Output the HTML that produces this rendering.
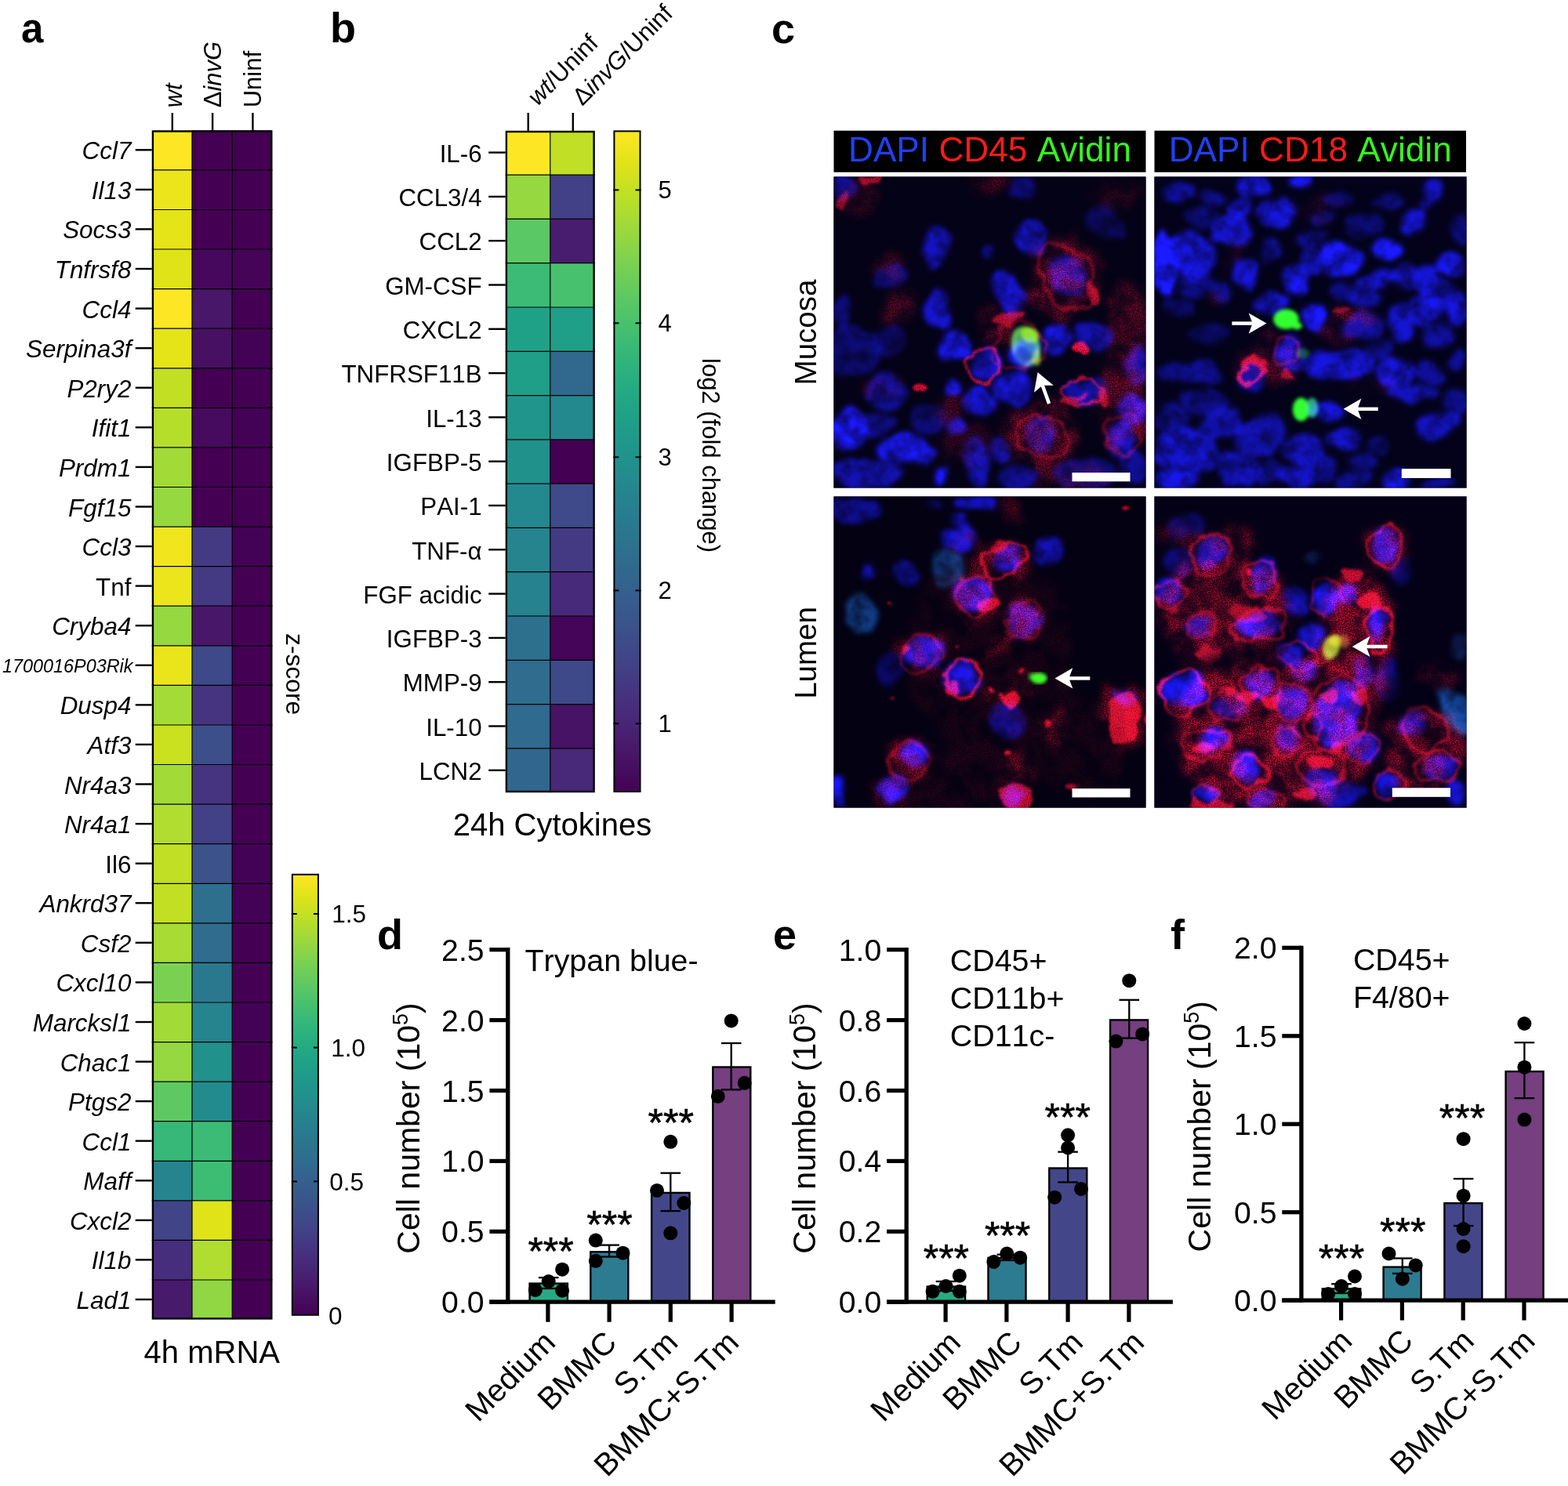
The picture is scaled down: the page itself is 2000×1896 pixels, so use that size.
<!DOCTYPE html>
<html lang="en">
<head>
<meta charset="utf-8">
<title>Figure</title>
<style>
html,body{margin:0;padding:0;background:#fff;}
body{width:2000px;height:1896px;overflow:hidden;}
svg{display:block;}
svg text{font-family:"Liberation Sans", Arial, Helvetica, sans-serif;fill:#000;font-kerning:none;}
</style>
</head>
<body>
<svg width="2000" height="1896" viewBox="0 0 2000 1896">
<defs><linearGradient id="gv" x1="0" y1="0" x2="0" y2="1"><stop offset="0.00" stop-color="#fde725"/><stop offset="0.05" stop-color="#dfe318"/><stop offset="0.10" stop-color="#bddf26"/><stop offset="0.15" stop-color="#9bd93c"/><stop offset="0.20" stop-color="#7ad151"/><stop offset="0.25" stop-color="#5ec962"/><stop offset="0.30" stop-color="#44bf70"/><stop offset="0.35" stop-color="#2fb47c"/><stop offset="0.40" stop-color="#22a884"/><stop offset="0.45" stop-color="#1e9c89"/><stop offset="0.50" stop-color="#21918c"/><stop offset="0.55" stop-color="#25848e"/><stop offset="0.60" stop-color="#2a788e"/><stop offset="0.65" stop-color="#2f6c8e"/><stop offset="0.70" stop-color="#355f8d"/><stop offset="0.75" stop-color="#3b528b"/><stop offset="0.80" stop-color="#414487"/><stop offset="0.85" stop-color="#463480"/><stop offset="0.90" stop-color="#482475"/><stop offset="0.95" stop-color="#471365"/><stop offset="1.00" stop-color="#440154"/></linearGradient><filter id="fb" x="-5%" y="-5%" width="110%" height="110%" color-interpolation-filters="sRGB"><feTurbulence type="fractalNoise" baseFrequency="0.028" numOctaves="2" seed="3" result="dn"/><feDisplacementMap in="SourceGraphic" in2="dn" scale="22" xChannelSelector="R" yChannelSelector="G" result="dd"/><feGaussianBlur in="dd" stdDeviation="3.2" result="b"/><feTurbulence type="fractalNoise" baseFrequency="0.045" numOctaves="3" seed="7" result="n"/><feColorMatrix in="n" type="matrix" values="0 0 0 0 1  0 0 0 0 1  0 0 0 0 1  2.4 0 0 0 -0.6" result="na"/><feComposite in="b" in2="na" operator="arithmetic" k1="0.75" k2="0.6" k3="0" k4="0"/></filter><filter id="frc" x="-5%" y="-5%" width="110%" height="110%" color-interpolation-filters="sRGB"><feTurbulence type="fractalNoise" baseFrequency="0.03" numOctaves="3" seed="9" result="dn"/><feDisplacementMap in="SourceGraphic" in2="dn" scale="40" xChannelSelector="R" yChannelSelector="G" result="dd"/><feGaussianBlur in="dd" stdDeviation="5.5" result="b"/><feTurbulence type="fractalNoise" baseFrequency="0.7" numOctaves="2" seed="11" result="n"/><feColorMatrix in="n" type="matrix" values="0 0 0 0 1  0 0 0 0 1  0 0 0 0 1  4.0 0 0 0 -1.7" result="na"/><feTurbulence type="fractalNoise" baseFrequency="0.035" numOctaves="3" seed="23" result="n2"/><feColorMatrix in="n2" type="matrix" values="0 0 0 0 1  0 0 0 0 1  0 0 0 0 1  0 3.2 0 0 -1.0" result="nb"/><feComposite in="b" in2="nb" operator="arithmetic" k1="0.9" k2="0.25" k3="0" k4="0" result="b2"/><feComposite in="b2" in2="na" operator="arithmetic" k1="0.75" k2="0.3" k3="0" k4="0"/></filter><filter id="fr" x="-5%" y="-5%" width="110%" height="110%" color-interpolation-filters="sRGB"><feTurbulence type="fractalNoise" baseFrequency="0.035" numOctaves="3" seed="14" result="dn"/><feDisplacementMap in="SourceGraphic" in2="dn" scale="24" xChannelSelector="R" yChannelSelector="G" result="dd"/><feGaussianBlur in="dd" stdDeviation="1.4" result="b"/><feTurbulence type="fractalNoise" baseFrequency="0.7" numOctaves="2" seed="5" result="n"/><feColorMatrix in="n" type="matrix" values="0 0 0 0 1  0 0 0 0 1  0 0 0 0 1  3.0 0 0 0 -1.0" result="na"/><feComposite in="b" in2="na" operator="arithmetic" k1="0.5" k2="0.6" k3="0" k4="0"/></filter><filter id="fg" x="-5%" y="-5%" width="110%" height="110%" color-interpolation-filters="sRGB"><feGaussianBlur in="SourceGraphic" stdDeviation="2.0"/></filter><filter id="fd" x="-5%" y="-5%" width="110%" height="110%" color-interpolation-filters="sRGB"><feGaussianBlur in="SourceGraphic" stdDeviation="7"/></filter><clipPath id="cp"><rect x="0.5" y="0.5" width="398" height="397"/></clipPath></defs>
<rect width="2000" height="1896" fill="#fff"/>
<g id="panel-a">
<text x="27.0" y="54.0" font-size="51" font-weight="bold">a</text>
<rect x="194.7" y="166.3" width="50.6" height="50.9" fill="#fde725"/>
<rect x="245.0" y="166.3" width="51.6" height="50.9" fill="#440154"/>
<rect x="296.2" y="166.3" width="50.3" height="50.9" fill="#440154"/>
<line x1="172.7" y1="191.3" x2="193.7" y2="191.3" stroke="#000" stroke-width="2.4" stroke-linecap="butt"/>
<text x="167.4" y="203.3" font-size="31.4" text-anchor="end" font-style="italic">Ccl7</text>
<rect x="194.7" y="216.9" width="50.6" height="50.9" fill="#ece51b"/>
<rect x="245.0" y="216.9" width="51.6" height="50.9" fill="#440154"/>
<rect x="296.2" y="216.9" width="50.3" height="50.9" fill="#440154"/>
<line x1="172.7" y1="241.9" x2="193.7" y2="241.9" stroke="#000" stroke-width="2.4" stroke-linecap="butt"/>
<text x="167.4" y="253.9" font-size="31.4" text-anchor="end" font-style="italic">Il13</text>
<rect x="194.7" y="267.5" width="50.6" height="50.9" fill="#e5e419"/>
<rect x="245.0" y="267.5" width="51.6" height="50.9" fill="#440154"/>
<rect x="296.2" y="267.5" width="50.3" height="50.9" fill="#440154"/>
<line x1="172.7" y1="292.4" x2="193.7" y2="292.4" stroke="#000" stroke-width="2.4" stroke-linecap="butt"/>
<text x="167.4" y="304.4" font-size="31.4" text-anchor="end" font-style="italic">Socs3</text>
<rect x="194.7" y="318.0" width="50.6" height="50.9" fill="#dfe318"/>
<rect x="245.0" y="318.0" width="51.6" height="50.9" fill="#46085c"/>
<rect x="296.2" y="318.0" width="50.3" height="50.9" fill="#450457"/>
<line x1="172.7" y1="343.0" x2="193.7" y2="343.0" stroke="#000" stroke-width="2.4" stroke-linecap="butt"/>
<text x="167.4" y="355.0" font-size="31.4" text-anchor="end" font-style="italic">Tnfrsf8</text>
<rect x="194.7" y="368.6" width="50.6" height="50.9" fill="#fde725"/>
<rect x="245.0" y="368.6" width="51.6" height="50.9" fill="#481769"/>
<rect x="296.2" y="368.6" width="50.3" height="50.9" fill="#440154"/>
<line x1="172.7" y1="393.6" x2="193.7" y2="393.6" stroke="#000" stroke-width="2.4" stroke-linecap="butt"/>
<text x="167.4" y="405.6" font-size="31.4" text-anchor="end" font-style="italic">Ccl4</text>
<rect x="194.7" y="419.2" width="50.6" height="50.9" fill="#e5e419"/>
<rect x="245.0" y="419.2" width="51.6" height="50.9" fill="#471063"/>
<rect x="296.2" y="419.2" width="50.3" height="50.9" fill="#440256"/>
<line x1="172.7" y1="444.2" x2="193.7" y2="444.2" stroke="#000" stroke-width="2.4" stroke-linecap="butt"/>
<text x="167.4" y="456.2" font-size="31.4" text-anchor="end" font-style="italic">Serpina3f</text>
<rect x="194.7" y="469.8" width="50.6" height="50.9" fill="#c2df23"/>
<rect x="245.0" y="469.8" width="51.6" height="50.9" fill="#440154"/>
<rect x="296.2" y="469.8" width="50.3" height="50.9" fill="#440154"/>
<line x1="172.7" y1="494.7" x2="193.7" y2="494.7" stroke="#000" stroke-width="2.4" stroke-linecap="butt"/>
<text x="167.4" y="506.7" font-size="31.4" text-anchor="end" font-style="italic">P2ry2</text>
<rect x="194.7" y="520.3" width="50.6" height="50.9" fill="#b5de2b"/>
<rect x="245.0" y="520.3" width="51.6" height="50.9" fill="#460b5e"/>
<rect x="296.2" y="520.3" width="50.3" height="50.9" fill="#440256"/>
<line x1="172.7" y1="545.3" x2="193.7" y2="545.3" stroke="#000" stroke-width="2.4" stroke-linecap="butt"/>
<text x="167.4" y="557.3" font-size="31.4" text-anchor="end" font-style="italic">Ifit1</text>
<rect x="194.7" y="570.9" width="50.6" height="50.9" fill="#a2da37"/>
<rect x="245.0" y="570.9" width="51.6" height="50.9" fill="#440154"/>
<rect x="296.2" y="570.9" width="50.3" height="50.9" fill="#440154"/>
<line x1="172.7" y1="595.9" x2="193.7" y2="595.9" stroke="#000" stroke-width="2.4" stroke-linecap="butt"/>
<text x="167.4" y="607.9" font-size="31.4" text-anchor="end" font-style="italic">Prdm1</text>
<rect x="194.7" y="621.5" width="50.6" height="50.9" fill="#95d840"/>
<rect x="245.0" y="621.5" width="51.6" height="50.9" fill="#440154"/>
<rect x="296.2" y="621.5" width="50.3" height="50.9" fill="#440154"/>
<line x1="172.7" y1="646.5" x2="193.7" y2="646.5" stroke="#000" stroke-width="2.4" stroke-linecap="butt"/>
<text x="167.4" y="658.5" font-size="31.4" text-anchor="end" font-style="italic">Fgf15</text>
<rect x="194.7" y="672.1" width="50.6" height="50.9" fill="#f1e51d"/>
<rect x="245.0" y="672.1" width="51.6" height="50.9" fill="#443a83"/>
<rect x="296.2" y="672.1" width="50.3" height="50.9" fill="#440256"/>
<line x1="172.7" y1="697.1" x2="193.7" y2="697.1" stroke="#000" stroke-width="2.4" stroke-linecap="butt"/>
<text x="167.4" y="709.0" font-size="31.4" text-anchor="end" font-style="italic">Ccl3</text>
<rect x="194.7" y="722.6" width="50.6" height="50.9" fill="#ece51b"/>
<rect x="245.0" y="722.6" width="51.6" height="50.9" fill="#443983"/>
<rect x="296.2" y="722.6" width="50.3" height="50.9" fill="#440154"/>
<line x1="172.7" y1="747.6" x2="193.7" y2="747.6" stroke="#000" stroke-width="2.4" stroke-linecap="butt"/>
<text x="167.4" y="759.6" font-size="31.4" text-anchor="end">Tnf</text>
<rect x="194.7" y="773.2" width="50.6" height="50.9" fill="#95d840"/>
<rect x="245.0" y="773.2" width="51.6" height="50.9" fill="#481769"/>
<rect x="296.2" y="773.2" width="50.3" height="50.9" fill="#440154"/>
<line x1="172.7" y1="798.2" x2="193.7" y2="798.2" stroke="#000" stroke-width="2.4" stroke-linecap="butt"/>
<text x="167.4" y="810.2" font-size="31.4" text-anchor="end" font-style="italic">Cryba4</text>
<rect x="194.7" y="823.8" width="50.6" height="50.9" fill="#eae51a"/>
<rect x="245.0" y="823.8" width="51.6" height="50.9" fill="#3e4989"/>
<rect x="296.2" y="823.8" width="50.3" height="50.9" fill="#440154"/>
<line x1="172.7" y1="848.8" x2="193.7" y2="848.8" stroke="#000" stroke-width="2.4" stroke-linecap="butt"/>
<text x="169.5" y="858.2" font-size="23.4" text-anchor="end" font-style="italic">1700016P03Rik</text>
<rect x="194.7" y="874.4" width="50.6" height="50.9" fill="#a5db36"/>
<rect x="245.0" y="874.4" width="51.6" height="50.9" fill="#463480"/>
<rect x="296.2" y="874.4" width="50.3" height="50.9" fill="#440154"/>
<line x1="172.7" y1="899.4" x2="193.7" y2="899.4" stroke="#000" stroke-width="2.4" stroke-linecap="butt"/>
<text x="167.4" y="911.4" font-size="31.4" text-anchor="end" font-style="italic">Dusp4</text>
<rect x="194.7" y="925.0" width="50.6" height="50.9" fill="#cae11f"/>
<rect x="245.0" y="925.0" width="51.6" height="50.9" fill="#3c4f8a"/>
<rect x="296.2" y="925.0" width="50.3" height="50.9" fill="#440154"/>
<line x1="172.7" y1="949.9" x2="193.7" y2="949.9" stroke="#000" stroke-width="2.4" stroke-linecap="butt"/>
<text x="167.4" y="961.9" font-size="31.4" text-anchor="end" font-style="italic">Atf3</text>
<rect x="194.7" y="975.5" width="50.6" height="50.9" fill="#a2da37"/>
<rect x="245.0" y="975.5" width="51.6" height="50.9" fill="#463480"/>
<rect x="296.2" y="975.5" width="50.3" height="50.9" fill="#440154"/>
<line x1="172.7" y1="1000.5" x2="193.7" y2="1000.5" stroke="#000" stroke-width="2.4" stroke-linecap="butt"/>
<text x="167.4" y="1012.5" font-size="31.4" text-anchor="end" font-style="italic">Nr4a3</text>
<rect x="194.7" y="1026.1" width="50.6" height="50.9" fill="#b0dd2f"/>
<rect x="245.0" y="1026.1" width="51.6" height="50.9" fill="#424086"/>
<rect x="296.2" y="1026.1" width="50.3" height="50.9" fill="#440154"/>
<line x1="172.7" y1="1051.1" x2="193.7" y2="1051.1" stroke="#000" stroke-width="2.4" stroke-linecap="butt"/>
<text x="167.4" y="1063.1" font-size="31.4" text-anchor="end" font-style="italic">Nr4a1</text>
<rect x="194.7" y="1076.7" width="50.6" height="50.9" fill="#c0df25"/>
<rect x="245.0" y="1076.7" width="51.6" height="50.9" fill="#3b528b"/>
<rect x="296.2" y="1076.7" width="50.3" height="50.9" fill="#440256"/>
<line x1="172.7" y1="1101.7" x2="193.7" y2="1101.7" stroke="#000" stroke-width="2.4" stroke-linecap="butt"/>
<text x="167.4" y="1113.7" font-size="31.4" text-anchor="end">Il6</text>
<rect x="194.7" y="1127.3" width="50.6" height="50.9" fill="#c2df23"/>
<rect x="245.0" y="1127.3" width="51.6" height="50.9" fill="#2e6f8e"/>
<rect x="296.2" y="1127.3" width="50.3" height="50.9" fill="#440256"/>
<line x1="172.7" y1="1152.2" x2="193.7" y2="1152.2" stroke="#000" stroke-width="2.4" stroke-linecap="butt"/>
<text x="167.4" y="1164.2" font-size="31.4" text-anchor="end" font-style="italic">Ankrd37</text>
<rect x="194.7" y="1177.8" width="50.6" height="50.9" fill="#a8db34"/>
<rect x="245.0" y="1177.8" width="51.6" height="50.9" fill="#2f6c8e"/>
<rect x="296.2" y="1177.8" width="50.3" height="50.9" fill="#440154"/>
<line x1="172.7" y1="1202.8" x2="193.7" y2="1202.8" stroke="#000" stroke-width="2.4" stroke-linecap="butt"/>
<text x="167.4" y="1214.8" font-size="31.4" text-anchor="end" font-style="italic">Csf2</text>
<rect x="194.7" y="1228.4" width="50.6" height="50.9" fill="#7ad151"/>
<rect x="245.0" y="1228.4" width="51.6" height="50.9" fill="#2a788e"/>
<rect x="296.2" y="1228.4" width="50.3" height="50.9" fill="#440154"/>
<line x1="172.7" y1="1253.4" x2="193.7" y2="1253.4" stroke="#000" stroke-width="2.4" stroke-linecap="butt"/>
<text x="167.4" y="1265.4" font-size="31.4" text-anchor="end" font-style="italic">Cxcl10</text>
<rect x="194.7" y="1279.0" width="50.6" height="50.9" fill="#a2da37"/>
<rect x="245.0" y="1279.0" width="51.6" height="50.9" fill="#25848e"/>
<rect x="296.2" y="1279.0" width="50.3" height="50.9" fill="#440256"/>
<line x1="172.7" y1="1304.0" x2="193.7" y2="1304.0" stroke="#000" stroke-width="2.4" stroke-linecap="butt"/>
<text x="167.4" y="1316.0" font-size="31.4" text-anchor="end" font-style="italic">Marcksl1</text>
<rect x="194.7" y="1329.6" width="50.6" height="50.9" fill="#95d840"/>
<rect x="245.0" y="1329.6" width="51.6" height="50.9" fill="#21918c"/>
<rect x="296.2" y="1329.6" width="50.3" height="50.9" fill="#440154"/>
<line x1="172.7" y1="1354.6" x2="193.7" y2="1354.6" stroke="#000" stroke-width="2.4" stroke-linecap="butt"/>
<text x="167.4" y="1366.5" font-size="31.4" text-anchor="end" font-style="italic">Chac1</text>
<rect x="194.7" y="1380.1" width="50.6" height="50.9" fill="#5ec962"/>
<rect x="245.0" y="1380.1" width="51.6" height="50.9" fill="#228b8d"/>
<rect x="296.2" y="1380.1" width="50.3" height="50.9" fill="#440154"/>
<line x1="172.7" y1="1405.1" x2="193.7" y2="1405.1" stroke="#000" stroke-width="2.4" stroke-linecap="butt"/>
<text x="167.4" y="1417.1" font-size="31.4" text-anchor="end" font-style="italic">Ptgs2</text>
<rect x="194.7" y="1430.7" width="50.6" height="50.9" fill="#37b878"/>
<rect x="245.0" y="1430.7" width="51.6" height="50.9" fill="#3bbb75"/>
<rect x="296.2" y="1430.7" width="50.3" height="50.9" fill="#440154"/>
<line x1="172.7" y1="1455.7" x2="193.7" y2="1455.7" stroke="#000" stroke-width="2.4" stroke-linecap="butt"/>
<text x="167.4" y="1467.7" font-size="31.4" text-anchor="end" font-style="italic">Ccl1</text>
<rect x="194.7" y="1481.3" width="50.6" height="50.9" fill="#25848e"/>
<rect x="245.0" y="1481.3" width="51.6" height="50.9" fill="#3dbc74"/>
<rect x="296.2" y="1481.3" width="50.3" height="50.9" fill="#440154"/>
<line x1="172.7" y1="1506.3" x2="193.7" y2="1506.3" stroke="#000" stroke-width="2.4" stroke-linecap="butt"/>
<text x="167.4" y="1518.3" font-size="31.4" text-anchor="end" font-style="italic">Maff</text>
<rect x="194.7" y="1531.9" width="50.6" height="50.9" fill="#414487"/>
<rect x="245.0" y="1531.9" width="51.6" height="50.9" fill="#dfe318"/>
<rect x="296.2" y="1531.9" width="50.3" height="50.9" fill="#440154"/>
<line x1="172.7" y1="1556.9" x2="193.7" y2="1556.9" stroke="#000" stroke-width="2.4" stroke-linecap="butt"/>
<text x="167.4" y="1568.9" font-size="31.4" text-anchor="end" font-style="italic">Cxcl2</text>
<rect x="194.7" y="1582.4" width="50.6" height="50.9" fill="#472e7c"/>
<rect x="245.0" y="1582.4" width="51.6" height="50.9" fill="#b0dd2f"/>
<rect x="296.2" y="1582.4" width="50.3" height="50.9" fill="#440154"/>
<line x1="172.7" y1="1607.4" x2="193.7" y2="1607.4" stroke="#000" stroke-width="2.4" stroke-linecap="butt"/>
<text x="167.4" y="1619.4" font-size="31.4" text-anchor="end" font-style="italic">Il1b</text>
<rect x="194.7" y="1633.0" width="50.6" height="49.6" fill="#481a6c"/>
<rect x="245.0" y="1633.0" width="51.6" height="49.6" fill="#90d743"/>
<rect x="296.2" y="1633.0" width="50.3" height="49.6" fill="#440154"/>
<line x1="172.7" y1="1658.0" x2="193.7" y2="1658.0" stroke="#000" stroke-width="2.4" stroke-linecap="butt"/>
<text x="167.4" y="1670.0" font-size="31.4" text-anchor="end" font-style="italic">Lad1</text>
<line x1="193.7" y1="216.9" x2="347.5" y2="216.9" stroke="#000" stroke-width="1.2" stroke-linecap="butt"/>
<line x1="193.7" y1="267.5" x2="347.5" y2="267.5" stroke="#000" stroke-width="1.2" stroke-linecap="butt"/>
<line x1="193.7" y1="318.0" x2="347.5" y2="318.0" stroke="#000" stroke-width="1.2" stroke-linecap="butt"/>
<line x1="193.7" y1="368.6" x2="347.5" y2="368.6" stroke="#000" stroke-width="1.2" stroke-linecap="butt"/>
<line x1="193.7" y1="419.2" x2="347.5" y2="419.2" stroke="#000" stroke-width="1.2" stroke-linecap="butt"/>
<line x1="193.7" y1="469.8" x2="347.5" y2="469.8" stroke="#000" stroke-width="1.2" stroke-linecap="butt"/>
<line x1="193.7" y1="520.3" x2="347.5" y2="520.3" stroke="#000" stroke-width="1.2" stroke-linecap="butt"/>
<line x1="193.7" y1="570.9" x2="347.5" y2="570.9" stroke="#000" stroke-width="1.2" stroke-linecap="butt"/>
<line x1="193.7" y1="621.5" x2="347.5" y2="621.5" stroke="#000" stroke-width="1.2" stroke-linecap="butt"/>
<line x1="193.7" y1="672.1" x2="347.5" y2="672.1" stroke="#000" stroke-width="1.2" stroke-linecap="butt"/>
<line x1="193.7" y1="722.6" x2="347.5" y2="722.6" stroke="#000" stroke-width="1.2" stroke-linecap="butt"/>
<line x1="193.7" y1="773.2" x2="347.5" y2="773.2" stroke="#000" stroke-width="1.2" stroke-linecap="butt"/>
<line x1="193.7" y1="823.8" x2="347.5" y2="823.8" stroke="#000" stroke-width="1.2" stroke-linecap="butt"/>
<line x1="193.7" y1="874.4" x2="347.5" y2="874.4" stroke="#000" stroke-width="1.2" stroke-linecap="butt"/>
<line x1="193.7" y1="925.0" x2="347.5" y2="925.0" stroke="#000" stroke-width="1.2" stroke-linecap="butt"/>
<line x1="193.7" y1="975.5" x2="347.5" y2="975.5" stroke="#000" stroke-width="1.2" stroke-linecap="butt"/>
<line x1="193.7" y1="1026.1" x2="347.5" y2="1026.1" stroke="#000" stroke-width="1.2" stroke-linecap="butt"/>
<line x1="193.7" y1="1076.7" x2="347.5" y2="1076.7" stroke="#000" stroke-width="1.2" stroke-linecap="butt"/>
<line x1="193.7" y1="1127.3" x2="347.5" y2="1127.3" stroke="#000" stroke-width="1.2" stroke-linecap="butt"/>
<line x1="193.7" y1="1177.8" x2="347.5" y2="1177.8" stroke="#000" stroke-width="1.2" stroke-linecap="butt"/>
<line x1="193.7" y1="1228.4" x2="347.5" y2="1228.4" stroke="#000" stroke-width="1.2" stroke-linecap="butt"/>
<line x1="193.7" y1="1279.0" x2="347.5" y2="1279.0" stroke="#000" stroke-width="1.2" stroke-linecap="butt"/>
<line x1="193.7" y1="1329.6" x2="347.5" y2="1329.6" stroke="#000" stroke-width="1.2" stroke-linecap="butt"/>
<line x1="193.7" y1="1380.1" x2="347.5" y2="1380.1" stroke="#000" stroke-width="1.2" stroke-linecap="butt"/>
<line x1="193.7" y1="1430.7" x2="347.5" y2="1430.7" stroke="#000" stroke-width="1.2" stroke-linecap="butt"/>
<line x1="193.7" y1="1481.3" x2="347.5" y2="1481.3" stroke="#000" stroke-width="1.2" stroke-linecap="butt"/>
<line x1="193.7" y1="1531.9" x2="347.5" y2="1531.9" stroke="#000" stroke-width="1.2" stroke-linecap="butt"/>
<line x1="193.7" y1="1582.4" x2="347.5" y2="1582.4" stroke="#000" stroke-width="1.2" stroke-linecap="butt"/>
<line x1="193.7" y1="1633.0" x2="347.5" y2="1633.0" stroke="#000" stroke-width="1.2" stroke-linecap="butt"/>
<line x1="245.0" y1="166.3" x2="245.0" y2="1683.6" stroke="#000" stroke-width="1.2" stroke-linecap="butt"/>
<line x1="296.2" y1="166.3" x2="296.2" y2="1683.6" stroke="#000" stroke-width="1.2" stroke-linecap="butt"/>
<rect x="194.9" y="167.5" width="151.4" height="1514.9" fill="none" stroke="#000" stroke-width="2.4"/>
<line x1="219.8" y1="144.0" x2="219.8" y2="167.3" stroke="#000" stroke-width="2.4" stroke-linecap="butt"/>
<text x="232.0" y="137.3" font-size="31" transform="rotate(-90 232.0 137.3)"><tspan font-style="italic">wt</tspan></text>
<line x1="271.1" y1="144.0" x2="271.1" y2="167.3" stroke="#000" stroke-width="2.4" stroke-linecap="butt"/>
<text x="282.1" y="137.3" font-size="31" transform="rotate(-90 282.1 137.3)">Δ<tspan font-style="italic">invG</tspan></text>
<line x1="322.4" y1="144.0" x2="322.4" y2="167.3" stroke="#000" stroke-width="2.4" stroke-linecap="butt"/>
<text x="333.4" y="137.3" font-size="31" transform="rotate(-90 333.4 137.3)">Uninf</text>
<rect x="372.8" y="1115.8" width="33.1" height="562.0" fill="url(#gv)" stroke="#000" stroke-width="2"/>
<line x1="371.8" y1="1166.0" x2="378.8" y2="1166.0" stroke="#000" stroke-width="2" stroke-linecap="butt"/>
<line x1="399.9" y1="1166.0" x2="406.9" y2="1166.0" stroke="#000" stroke-width="2" stroke-linecap="butt"/>
<text x="423.3" y="1177.2" font-size="31.5">1.5</text>
<line x1="371.8" y1="1336.6" x2="378.8" y2="1336.6" stroke="#000" stroke-width="2" stroke-linecap="butt"/>
<line x1="399.9" y1="1336.6" x2="406.9" y2="1336.6" stroke="#000" stroke-width="2" stroke-linecap="butt"/>
<text x="422.3" y="1347.8" font-size="31.5">1.0</text>
<line x1="371.8" y1="1507.4" x2="378.8" y2="1507.4" stroke="#000" stroke-width="2" stroke-linecap="butt"/>
<line x1="399.9" y1="1507.4" x2="406.9" y2="1507.4" stroke="#000" stroke-width="2" stroke-linecap="butt"/>
<text x="420.3" y="1518.6" font-size="31.5">0.5</text>
<text x="419.0" y="1689.7" font-size="31.5">0</text>
<text x="365.3" y="808.0" font-size="31.8" transform="rotate(90 365.3 808.0)">z-score</text>
<text x="270.3" y="1739.0" font-size="40" text-anchor="middle">4h mRNA</text>
</g>
<g id="panel-b">
<text x="421.0" y="53.5" font-size="54" font-weight="bold">b</text>
<rect x="645.7" y="166.8" width="56.3" height="56.6" fill="#fde725"/>
<rect x="701.8" y="166.8" width="56.0" height="56.6" fill="#c0df25"/>
<line x1="623.2" y1="194.6" x2="644.7" y2="194.6" stroke="#000" stroke-width="2.4" stroke-linecap="butt"/>
<text x="614.6" y="206.8" font-size="31.3" text-anchor="end">IL-6</text>
<rect x="645.7" y="223.1" width="56.3" height="56.6" fill="#95d840"/>
<rect x="701.8" y="223.1" width="56.0" height="56.6" fill="#424086"/>
<line x1="623.2" y1="250.9" x2="644.7" y2="250.9" stroke="#000" stroke-width="2.4" stroke-linecap="butt"/>
<text x="614.6" y="263.1" font-size="31.3" text-anchor="end">CCL3/4</text>
<rect x="645.7" y="279.4" width="56.3" height="56.6" fill="#5ac864"/>
<rect x="701.8" y="279.4" width="56.0" height="56.6" fill="#481c6e"/>
<line x1="623.2" y1="307.2" x2="644.7" y2="307.2" stroke="#000" stroke-width="2.4" stroke-linecap="butt"/>
<text x="614.6" y="319.4" font-size="31.3" text-anchor="end">CCL2</text>
<rect x="645.7" y="335.7" width="56.3" height="56.6" fill="#3bbb75"/>
<rect x="701.8" y="335.7" width="56.0" height="56.6" fill="#48c16e"/>
<line x1="623.2" y1="363.5" x2="644.7" y2="363.5" stroke="#000" stroke-width="2.4" stroke-linecap="butt"/>
<text x="614.6" y="375.7" font-size="31.3" text-anchor="end">GM-CSF</text>
<rect x="645.7" y="392.0" width="56.3" height="56.6" fill="#1fa188"/>
<rect x="701.8" y="392.0" width="56.0" height="56.6" fill="#1f9f88"/>
<line x1="623.2" y1="419.8" x2="644.7" y2="419.8" stroke="#000" stroke-width="2.4" stroke-linecap="butt"/>
<text x="614.6" y="432.0" font-size="31.3" text-anchor="end">CXCL2</text>
<rect x="645.7" y="448.3" width="56.3" height="56.6" fill="#1f9f88"/>
<rect x="701.8" y="448.3" width="56.0" height="56.6" fill="#31688e"/>
<line x1="623.2" y1="476.1" x2="644.7" y2="476.1" stroke="#000" stroke-width="2.4" stroke-linecap="butt"/>
<text x="614.6" y="488.3" font-size="31.3" text-anchor="end">TNFRSF11B</text>
<rect x="645.7" y="504.6" width="56.3" height="56.6" fill="#1f958b"/>
<rect x="701.8" y="504.6" width="56.0" height="56.6" fill="#23898e"/>
<line x1="623.2" y1="532.4" x2="644.7" y2="532.4" stroke="#000" stroke-width="2.4" stroke-linecap="butt"/>
<text x="614.6" y="544.6" font-size="31.3" text-anchor="end">IL-13</text>
<rect x="645.7" y="560.9" width="56.3" height="56.6" fill="#21918c"/>
<rect x="701.8" y="560.9" width="56.0" height="56.6" fill="#440154"/>
<line x1="623.2" y1="588.7" x2="644.7" y2="588.7" stroke="#000" stroke-width="2.4" stroke-linecap="butt"/>
<text x="614.6" y="600.9" font-size="31.3" text-anchor="end">IGFBP-5</text>
<rect x="645.7" y="617.1" width="56.3" height="56.6" fill="#23898e"/>
<rect x="701.8" y="617.1" width="56.0" height="56.6" fill="#3e4a89"/>
<line x1="623.2" y1="645.0" x2="644.7" y2="645.0" stroke="#000" stroke-width="2.4" stroke-linecap="butt"/>
<text x="614.6" y="657.2" font-size="31.3" text-anchor="end">PAI-1</text>
<rect x="645.7" y="673.4" width="56.3" height="56.6" fill="#25848e"/>
<rect x="701.8" y="673.4" width="56.0" height="56.6" fill="#443a83"/>
<line x1="623.2" y1="701.3" x2="644.7" y2="701.3" stroke="#000" stroke-width="2.4" stroke-linecap="butt"/>
<text x="614.6" y="713.5" font-size="31.3" text-anchor="end">TNF-α</text>
<rect x="645.7" y="729.7" width="56.3" height="56.6" fill="#26828e"/>
<rect x="701.8" y="729.7" width="56.0" height="56.6" fill="#472a7a"/>
<line x1="623.2" y1="757.6" x2="644.7" y2="757.6" stroke="#000" stroke-width="2.4" stroke-linecap="butt"/>
<text x="614.6" y="769.8" font-size="31.3" text-anchor="end">FGF acidic</text>
<rect x="645.7" y="786.0" width="56.3" height="56.6" fill="#2d708e"/>
<rect x="701.8" y="786.0" width="56.0" height="56.6" fill="#450559"/>
<line x1="623.2" y1="813.9" x2="644.7" y2="813.9" stroke="#000" stroke-width="2.4" stroke-linecap="butt"/>
<text x="614.6" y="826.1" font-size="31.3" text-anchor="end">IGFBP-3</text>
<rect x="645.7" y="842.3" width="56.3" height="56.6" fill="#2f6c8e"/>
<rect x="701.8" y="842.3" width="56.0" height="56.6" fill="#3e4989"/>
<line x1="623.2" y1="870.2" x2="644.7" y2="870.2" stroke="#000" stroke-width="2.4" stroke-linecap="butt"/>
<text x="614.6" y="882.4" font-size="31.3" text-anchor="end">MMP-9</text>
<rect x="645.7" y="898.6" width="56.3" height="56.6" fill="#306a8e"/>
<rect x="701.8" y="898.6" width="56.0" height="56.6" fill="#471365"/>
<line x1="623.2" y1="926.5" x2="644.7" y2="926.5" stroke="#000" stroke-width="2.4" stroke-linecap="butt"/>
<text x="614.6" y="938.7" font-size="31.3" text-anchor="end">IL-10</text>
<rect x="645.7" y="954.9" width="56.3" height="55.3" fill="#31678e"/>
<rect x="701.8" y="954.9" width="56.0" height="55.3" fill="#482878"/>
<line x1="623.2" y1="982.8" x2="644.7" y2="982.8" stroke="#000" stroke-width="2.4" stroke-linecap="butt"/>
<text x="614.6" y="994.9" font-size="31.3" text-anchor="end">LCN2</text>
<line x1="644.7" y1="223.1" x2="758.8" y2="223.1" stroke="#000" stroke-width="1.2" stroke-linecap="butt"/>
<line x1="644.7" y1="279.4" x2="758.8" y2="279.4" stroke="#000" stroke-width="1.2" stroke-linecap="butt"/>
<line x1="644.7" y1="335.7" x2="758.8" y2="335.7" stroke="#000" stroke-width="1.2" stroke-linecap="butt"/>
<line x1="644.7" y1="392.0" x2="758.8" y2="392.0" stroke="#000" stroke-width="1.2" stroke-linecap="butt"/>
<line x1="644.7" y1="448.3" x2="758.8" y2="448.3" stroke="#000" stroke-width="1.2" stroke-linecap="butt"/>
<line x1="644.7" y1="504.6" x2="758.8" y2="504.6" stroke="#000" stroke-width="1.2" stroke-linecap="butt"/>
<line x1="644.7" y1="560.9" x2="758.8" y2="560.9" stroke="#000" stroke-width="1.2" stroke-linecap="butt"/>
<line x1="644.7" y1="617.1" x2="758.8" y2="617.1" stroke="#000" stroke-width="1.2" stroke-linecap="butt"/>
<line x1="644.7" y1="673.4" x2="758.8" y2="673.4" stroke="#000" stroke-width="1.2" stroke-linecap="butt"/>
<line x1="644.7" y1="729.7" x2="758.8" y2="729.7" stroke="#000" stroke-width="1.2" stroke-linecap="butt"/>
<line x1="644.7" y1="786.0" x2="758.8" y2="786.0" stroke="#000" stroke-width="1.2" stroke-linecap="butt"/>
<line x1="644.7" y1="842.3" x2="758.8" y2="842.3" stroke="#000" stroke-width="1.2" stroke-linecap="butt"/>
<line x1="644.7" y1="898.6" x2="758.8" y2="898.6" stroke="#000" stroke-width="1.2" stroke-linecap="butt"/>
<line x1="644.7" y1="954.9" x2="758.8" y2="954.9" stroke="#000" stroke-width="1.2" stroke-linecap="butt"/>
<line x1="701.8" y1="166.8" x2="701.8" y2="1011.2" stroke="#000" stroke-width="1.2" stroke-linecap="butt"/>
<rect x="645.9" y="168.0" width="111.7" height="842.0" fill="none" stroke="#000" stroke-width="2.4"/>
<line x1="673.7" y1="144.0" x2="673.7" y2="167.8" stroke="#000" stroke-width="2.4" stroke-linecap="butt"/>
<text x="685.7" y="136.0" font-size="31" transform="rotate(-45 685.7 136.0)"><tspan font-style="italic">wt</tspan>/Uninf</text>
<line x1="730.8" y1="144.0" x2="730.8" y2="167.8" stroke="#000" stroke-width="2.4" stroke-linecap="butt"/>
<text x="742.8" y="136.0" font-size="31" transform="rotate(-45 742.8 136.0)">Δ<tspan font-style="italic">invG</tspan>/Uninf</text>
<rect x="783.4" y="167.4" width="33.1" height="842.6" fill="url(#gv)" stroke="#000" stroke-width="2"/>
<line x1="782.4" y1="242.4" x2="789.4" y2="242.4" stroke="#000" stroke-width="2" stroke-linecap="butt"/>
<line x1="810.5" y1="242.4" x2="817.5" y2="242.4" stroke="#000" stroke-width="2" stroke-linecap="butt"/>
<text x="839.5" y="253.2" font-size="31">5</text>
<line x1="782.4" y1="412.3" x2="789.4" y2="412.3" stroke="#000" stroke-width="2" stroke-linecap="butt"/>
<line x1="810.5" y1="412.3" x2="817.5" y2="412.3" stroke="#000" stroke-width="2" stroke-linecap="butt"/>
<text x="839.5" y="423.1" font-size="31">4</text>
<line x1="782.4" y1="583.3" x2="789.4" y2="583.3" stroke="#000" stroke-width="2" stroke-linecap="butt"/>
<line x1="810.5" y1="583.3" x2="817.5" y2="583.3" stroke="#000" stroke-width="2" stroke-linecap="butt"/>
<text x="839.5" y="594.1" font-size="31">3</text>
<line x1="782.4" y1="753.4" x2="789.4" y2="753.4" stroke="#000" stroke-width="2" stroke-linecap="butt"/>
<line x1="810.5" y1="753.4" x2="817.5" y2="753.4" stroke="#000" stroke-width="2" stroke-linecap="butt"/>
<text x="839.5" y="764.2" font-size="31">2</text>
<line x1="782.4" y1="923.3" x2="789.4" y2="923.3" stroke="#000" stroke-width="2" stroke-linecap="butt"/>
<line x1="810.5" y1="923.3" x2="817.5" y2="923.3" stroke="#000" stroke-width="2" stroke-linecap="butt"/>
<text x="839.5" y="934.1" font-size="31">1</text>
<text x="895.5" y="457.0" font-size="31" transform="rotate(90 895.5 457.0)">log2 (fold change)</text>
<text x="704.5" y="1066.0" font-size="40" text-anchor="middle">24h Cytokines</text>
</g>
<g id="panel-c">
<text x="984.0" y="54.5" font-size="54" font-weight="bold">c</text>
<rect x="1063.5" y="166.7" width="398.0" height="53.0" fill="#000"/>
<text x="1262.5" y="206.4" font-size="44.2" text-anchor="middle" xml:space="preserve"><tspan fill="#2040f5">DAPI</tspan> <tspan fill="#ff1a1a">CD45</tspan> <tspan fill="#35f51f">Avidin</tspan></text>
<rect x="1472.5" y="166.7" width="397.5" height="53.0" fill="#000"/>
<text x="1671.2" y="206.4" font-size="44.2" text-anchor="middle" xml:space="preserve"><tspan fill="#2040f5">DAPI</tspan> <tspan fill="#ff1a1a">CD18</tspan> <tspan fill="#35f51f">Avidin</tspan></text>
<g transform="translate(1063 225)" clip-path="url(#cp)">
<rect x="0" y="0" width="400" height="400" fill="#040216"/>
<g style="isolation:isolate">
<rect x="0" y="0" width="400" height="400" fill="#040216"/>
<g filter="url(#fb)" style="mix-blend-mode:screen">
<rect x="0" y="0" width="400" height="400" fill="#000" fill-opacity="0"/>
<ellipse cx="132.2" cy="89.6" rx="14.9" ry="27.7" fill="#1414e6" fill-opacity="0.6" transform="rotate(15 132.2 89.6)"/>
<ellipse cx="252.7" cy="78.9" rx="18.1" ry="19.2" fill="#1414e6" fill-opacity="0.65"/>
<ellipse cx="133.3" cy="170.6" rx="18.1" ry="29.9" fill="#1414e6" fill-opacity="0.65" transform="rotate(-5 133.3 170.6)"/>
<ellipse cx="153.5" cy="217.5" rx="21.3" ry="17.1" fill="#1414e6" fill-opacity="0.75"/>
<ellipse cx="221.7" cy="147.1" rx="19.2" ry="29.9" fill="#1414e6" fill-opacity="0.7" transform="rotate(-25 221.7 147.1)"/>
<ellipse cx="194.0" cy="238.8" rx="20.3" ry="21.3" fill="#1414e6" fill-opacity="0.65"/>
<ellipse cx="243.1" cy="226.0" rx="18.1" ry="21.3" fill="#1414e6" fill-opacity="0.85"/>
<ellipse cx="283.6" cy="209.0" rx="21.3" ry="19.2" fill="#1414e6" fill-opacity="0.8"/>
<ellipse cx="332.6" cy="202.6" rx="23.5" ry="19.2" fill="#1414e6" fill-opacity="0.55"/>
<ellipse cx="298.5" cy="127.9" rx="23.5" ry="27.7" fill="#1414e6" fill-opacity="0.55" transform="rotate(-20 298.5 127.9)"/>
<ellipse cx="230.3" cy="270.8" rx="23.5" ry="21.3" fill="#1414e6" fill-opacity="0.7"/>
<ellipse cx="187.6" cy="287.8" rx="21.3" ry="21.3" fill="#1414e6" fill-opacity="0.75"/>
<ellipse cx="152.5" cy="271.9" rx="11.7" ry="10.7" fill="#1414e6" fill-opacity="0.9"/>
<ellipse cx="68.2" cy="272.9" rx="27.7" ry="23.5" fill="#1414e6" fill-opacity="0.45"/>
<ellipse cx="21.3" cy="223.9" rx="38.4" ry="32.0" fill="#1414e6" fill-opacity="0.35"/>
<ellipse cx="19.2" cy="324.1" rx="23.5" ry="25.6" fill="#1414e6" fill-opacity="0.85"/>
<ellipse cx="95.9" cy="349.7" rx="38.4" ry="19.2" fill="#1414e6" fill-opacity="0.8"/>
<ellipse cx="42.6" cy="379.5" rx="42.6" ry="21.3" fill="#1414e6" fill-opacity="0.55"/>
<ellipse cx="136.5" cy="381.7" rx="10.7" ry="9.6" fill="#1414e6" fill-opacity="0.95"/>
<ellipse cx="183.4" cy="362.5" rx="14.9" ry="32.0" fill="#1414e6" fill-opacity="0.55"/>
<ellipse cx="213.2" cy="351.8" rx="12.8" ry="17.1" fill="#1414e6" fill-opacity="0.55"/>
<ellipse cx="157.8" cy="322.0" rx="10.7" ry="8.5" fill="#1414e6" fill-opacity="0.65"/>
<ellipse cx="319.8" cy="275.1" rx="27.7" ry="17.1" fill="#1414e6" fill-opacity="0.5"/>
<ellipse cx="379.5" cy="298.5" rx="19.2" ry="21.3" fill="#1414e6" fill-opacity="0.65"/>
<ellipse cx="388.1" cy="240.9" rx="12.8" ry="25.6" fill="#1414e6" fill-opacity="0.5"/>
<ellipse cx="366.7" cy="336.9" rx="19.2" ry="23.5" fill="#1414e6" fill-opacity="0.6"/>
<ellipse cx="264.4" cy="328.4" rx="19.2" ry="21.3" fill="#1414e6" fill-opacity="0.5"/>
<ellipse cx="74.6" cy="127.9" rx="21.3" ry="14.9" fill="#1414e6" fill-opacity="0.35"/>
<ellipse cx="12.8" cy="12.8" rx="12.8" ry="17.1" fill="#1414e6" fill-opacity="0.5"/>
<ellipse cx="240.9" cy="12.8" rx="17.1" ry="12.8" fill="#1414e6" fill-opacity="0.35"/>
<ellipse cx="198.3" cy="98.1" rx="8.5" ry="7.5" fill="#1414e6" fill-opacity="0.5"/>
<ellipse cx="345.4" cy="57.6" rx="25.6" ry="21.3" fill="#1414e6" fill-opacity="0.25"/>
<ellipse cx="10.7" cy="174.8" rx="12.8" ry="21.3" fill="#1414e6" fill-opacity="0.35"/>
<ellipse cx="234.5" cy="383.8" rx="25.6" ry="14.9" fill="#1414e6" fill-opacity="0.45"/>
<ellipse cx="319.8" cy="379.5" rx="42.6" ry="17.1" fill="#1414e6" fill-opacity="0.4"/>
<ellipse cx="70.4" cy="213.2" rx="25.6" ry="21.3" fill="#1414e6" fill-opacity="0.3"/>
<ellipse cx="383.8" cy="373.1" rx="17.1" ry="21.3" fill="#1414e6" fill-opacity="0.45"/>
<ellipse cx="119.4" cy="309.2" rx="25.6" ry="19.2" fill="#1414e6" fill-opacity="0.35"/>
<ellipse cx="53.3" cy="315.6" rx="21.3" ry="17.1" fill="#1414e6" fill-opacity="0.4"/>
</g>
<g filter="url(#frc)" style="mix-blend-mode:screen">
<rect x="0" y="0" width="400" height="400" fill="#000" fill-opacity="0"/>
<ellipse cx="294.2" cy="127.9" rx="46.9" ry="53.3" fill="#ff1020" fill-opacity="0.5"/>
<ellipse cx="266.5" cy="330.5" rx="49.0" ry="42.6" fill="#ff1020" fill-opacity="0.45"/>
<ellipse cx="375.3" cy="191.9" rx="27.7" ry="57.6" fill="#ff1020" fill-opacity="0.4"/>
<ellipse cx="373.1" cy="298.5" rx="34.1" ry="49.0" fill="#ff1020" fill-opacity="0.45"/>
<ellipse cx="85.3" cy="166.3" rx="19.2" ry="21.3" fill="#ff1020" fill-opacity="0.35"/>
<ellipse cx="70.4" cy="115.1" rx="25.6" ry="12.8" fill="#ff1020" fill-opacity="0.3"/>
<ellipse cx="198.3" cy="10.7" rx="19.2" ry="12.8" fill="#ff1020" fill-opacity="0.3"/>
<ellipse cx="149.3" cy="298.5" rx="17.1" ry="23.5" fill="#ff1020" fill-opacity="0.3"/>
<ellipse cx="59.7" cy="266.5" rx="21.3" ry="12.8" fill="#ff1020" fill-opacity="0.3"/>
<ellipse cx="362.5" cy="21.3" rx="36.2" ry="19.2" fill="#ff1020" fill-opacity="0.2"/>
<ellipse cx="170.6" cy="345.4" rx="34.1" ry="27.7" fill="#ff1020" fill-opacity="0.2"/>
<ellipse cx="298.5" cy="379.5" rx="46.9" ry="21.3" fill="#ff1020" fill-opacity="0.3"/>
<ellipse cx="213.2" cy="191.9" rx="32.0" ry="25.6" fill="#ff1020" fill-opacity="0.35"/>
<ellipse cx="32.0" cy="21.3" rx="25.6" ry="21.3" fill="#ff1020" fill-opacity="0.2"/>
</g>
<g filter="url(#fr)" style="mix-blend-mode:screen">
<rect x="0" y="0" width="400" height="400" fill="#000" fill-opacity="0"/>
<ellipse cx="115.1" cy="274.0" rx="9.0" ry="6.4" fill="#ff1020" fill-opacity="0.9"/>
<ellipse cx="318.8" cy="221.7" rx="6.8" ry="6.0" fill="#ff1020" fill-opacity="1.0"/>
<ellipse cx="223.9" cy="181.2" rx="21.3" ry="6.8" fill="#ff1020" fill-opacity="0.7" transform="rotate(-10 223.9 181.2)"/>
<ellipse cx="307.0" cy="284.6" rx="16.0" ry="5.5" fill="#ff1020" fill-opacity="0.7" transform="rotate(-10 307.0 284.6)"/>
<ellipse cx="345.4" cy="283.6" rx="7.5" ry="14.9" fill="#ff1020" fill-opacity="0.7"/>
<ellipse cx="49.0" cy="3.2" rx="14.9" ry="5.3" fill="#ff1020" fill-opacity="0.7"/>
<ellipse cx="10.7" cy="32.0" rx="6.4" ry="12.8" fill="#ff1020" fill-opacity="0.6" transform="rotate(20 10.7 32.0)"/>
<ellipse cx="328.4" cy="149.3" rx="6.4" ry="12.8" fill="#ff1020" fill-opacity="0.6"/>
<ellipse cx="194.0" cy="238.8" rx="21.3" ry="22.4" fill="none" stroke="#ff1020" stroke-width="3.8" stroke-opacity="0.9"/>
<ellipse cx="234.5" cy="217.5" rx="32.0" ry="29.9" fill="none" stroke="#ff1020" stroke-width="3.4" stroke-opacity="0.4"/>
<ellipse cx="315.6" cy="275.1" rx="28.8" ry="17.1" fill="none" stroke="#ff1020" stroke-width="3.4" stroke-opacity="0.8" transform="rotate(10 315.6 275.1)"/>
<ellipse cx="298.5" cy="127.9" rx="34.1" ry="42.6" fill="none" stroke="#ff1020" stroke-width="4.7" stroke-opacity="0.4" transform="rotate(-20 298.5 127.9)"/>
<ellipse cx="266.5" cy="332.6" rx="32.0" ry="27.7" fill="none" stroke="#ff1020" stroke-width="3.8" stroke-opacity="0.45"/>
<ellipse cx="368.9" cy="330.5" rx="23.5" ry="27.7" fill="none" stroke="#ff1020" stroke-width="3.4" stroke-opacity="0.4"/>
</g>
<g filter="url(#fg)" style="mix-blend-mode:screen">
<ellipse cx="245.2" cy="216.4" rx="18.3" ry="26.0" fill="#50d030" fill-opacity="0.55" transform="rotate(-12 245.2 216.4)"/>
<ellipse cx="245.6" cy="217.1" rx="14.9" ry="22.2" fill="none" stroke="#70f020" stroke-width="6.4" stroke-opacity="0.45" transform="rotate(-12 245.6 217.1)"/>
<ellipse cx="250.5" cy="202.6" rx="11.9" ry="9.8" fill="#98f020" fill-opacity="0.85" transform="rotate(25 250.5 202.6)"/>
<ellipse cx="259.7" cy="231.3" rx="5.1" ry="10.7" fill="#a0d820" fill-opacity="0.7"/>
<ellipse cx="234.5" cy="204.7" rx="6.4" ry="10.7" fill="#40d080" fill-opacity="0.4"/>
</g>
<g filter="url(#fg)">
<ellipse cx="240.5" cy="229.9" rx="10.7" ry="11.9" fill="#2030e0" fill-opacity="0.6"/>
</g>
</g>
<g transform="translate(260.6 249.9) rotate(70)"><path d="M0 0 L22.8 -13.2 L17.9 0 L22.8 13.2 Z" fill="#fff"/><rect x="16.9" y="-2.2" width="25.7" height="4.5" fill="#fff"/></g>
<rect x="304.5" y="378.0" width="74.0" height="11.3" fill="#fff"/>
</g>
<g transform="translate(1472 225)" clip-path="url(#cp)">
<rect x="0" y="0" width="400" height="400" fill="#03021a"/>
<g style="isolation:isolate">
<rect x="0" y="0" width="400" height="400" fill="#03021a"/>
<g filter="url(#fb)" style="mix-blend-mode:screen">
<rect x="0" y="0" width="400" height="400" fill="#000" fill-opacity="0"/>
<ellipse cx="127.9" cy="12.8" rx="23.5" ry="14.9" fill="#1414e6" fill-opacity="0.8"/>
<ellipse cx="187.6" cy="6.4" rx="14.9" ry="8.5" fill="#1414e6" fill-opacity="0.8"/>
<ellipse cx="32.0" cy="17.1" rx="19.2" ry="14.9" fill="#1414e6" fill-opacity="0.5"/>
<ellipse cx="157.8" cy="44.8" rx="23.5" ry="17.1" fill="#1414e6" fill-opacity="0.7"/>
<ellipse cx="110.9" cy="42.6" rx="19.2" ry="14.9" fill="#1414e6" fill-opacity="0.6"/>
<ellipse cx="100.2" cy="70.4" rx="27.7" ry="19.2" fill="#1414e6" fill-opacity="0.65"/>
<ellipse cx="46.9" cy="100.2" rx="34.1" ry="29.9" fill="#1414e6" fill-opacity="0.75"/>
<ellipse cx="12.8" cy="113.0" rx="14.9" ry="42.6" fill="#1414e6" fill-opacity="0.95"/>
<ellipse cx="117.3" cy="121.5" rx="17.1" ry="20.3" fill="#1414e6" fill-opacity="0.7"/>
<ellipse cx="181.2" cy="134.3" rx="14.9" ry="17.1" fill="#1414e6" fill-opacity="0.85"/>
<ellipse cx="200.4" cy="110.9" rx="17.1" ry="17.1" fill="#1414e6" fill-opacity="0.55"/>
<ellipse cx="240.9" cy="106.6" rx="25.6" ry="23.5" fill="#1414e6" fill-opacity="0.85"/>
<ellipse cx="298.5" cy="89.6" rx="19.2" ry="16.0" fill="#1414e6" fill-opacity="0.85"/>
<ellipse cx="332.6" cy="59.7" rx="19.2" ry="17.1" fill="#1414e6" fill-opacity="0.65"/>
<ellipse cx="353.9" cy="17.1" rx="12.8" ry="14.9" fill="#1414e6" fill-opacity="0.6"/>
<ellipse cx="345.4" cy="36.2" rx="10.7" ry="6.4" fill="#1414e6" fill-opacity="0.5"/>
<ellipse cx="379.5" cy="113.0" rx="17.1" ry="14.9" fill="#1414e6" fill-opacity="0.8"/>
<ellipse cx="349.7" cy="130.1" rx="17.1" ry="19.2" fill="#1414e6" fill-opacity="0.65"/>
<ellipse cx="283.6" cy="132.2" rx="27.7" ry="12.8" fill="#1414e6" fill-opacity="0.65" transform="rotate(-20 283.6 132.2)"/>
<ellipse cx="345.4" cy="168.4" rx="23.5" ry="19.2" fill="#1414e6" fill-opacity="0.6"/>
<ellipse cx="385.9" cy="170.6" rx="14.9" ry="21.3" fill="#1414e6" fill-opacity="0.7"/>
<ellipse cx="315.6" cy="189.8" rx="14.9" ry="23.5" fill="#1414e6" fill-opacity="0.65"/>
<ellipse cx="268.7" cy="191.9" rx="25.6" ry="17.1" fill="#1414e6" fill-opacity="0.5"/>
<ellipse cx="204.7" cy="179.1" rx="16.0" ry="14.9" fill="#1414e6" fill-opacity="0.85"/>
<ellipse cx="149.3" cy="159.9" rx="21.3" ry="12.8" fill="#1414e6" fill-opacity="0.7"/>
<ellipse cx="85.3" cy="149.3" rx="14.9" ry="12.8" fill="#1414e6" fill-opacity="0.5"/>
<ellipse cx="174.8" cy="226.0" rx="17.1" ry="23.5" fill="#1414e6" fill-opacity="0.7"/>
<ellipse cx="234.5" cy="240.9" rx="46.9" ry="19.2" fill="#1414e6" fill-opacity="0.7"/>
<ellipse cx="307.0" cy="251.6" rx="23.5" ry="17.1" fill="#1414e6" fill-opacity="0.75"/>
<ellipse cx="328.4" cy="277.2" rx="34.1" ry="10.7" fill="#1414e6" fill-opacity="0.6"/>
<ellipse cx="123.7" cy="253.7" rx="14.9" ry="19.2" fill="#1414e6" fill-opacity="0.55" transform="rotate(30 123.7 253.7)"/>
<ellipse cx="46.9" cy="251.6" rx="42.6" ry="14.9" fill="#1414e6" fill-opacity="0.45"/>
<ellipse cx="219.6" cy="298.5" rx="19.2" ry="10.7" fill="#1414e6" fill-opacity="0.8"/>
<ellipse cx="362.5" cy="317.7" rx="32.0" ry="14.9" fill="#1414e6" fill-opacity="0.6" transform="rotate(-20 362.5 317.7)"/>
<ellipse cx="240.9" cy="334.8" rx="21.3" ry="14.9" fill="#1414e6" fill-opacity="0.65"/>
<ellipse cx="191.9" cy="349.7" rx="25.6" ry="21.3" fill="#1414e6" fill-opacity="0.6"/>
<ellipse cx="136.5" cy="332.6" rx="32.0" ry="27.7" fill="#1414e6" fill-opacity="0.55"/>
<ellipse cx="85.3" cy="315.6" rx="27.7" ry="21.3" fill="#1414e6" fill-opacity="0.5"/>
<ellipse cx="42.6" cy="351.8" rx="42.6" ry="32.0" fill="#1414e6" fill-opacity="0.65"/>
<ellipse cx="106.6" cy="373.1" rx="27.7" ry="21.3" fill="#1414e6" fill-opacity="0.6"/>
<ellipse cx="27.7" cy="388.1" rx="27.7" ry="12.8" fill="#1414e6" fill-opacity="0.7"/>
<ellipse cx="185.5" cy="383.8" rx="25.6" ry="12.8" fill="#1414e6" fill-opacity="0.6"/>
<ellipse cx="309.2" cy="388.1" rx="17.1" ry="12.8" fill="#1414e6" fill-opacity="0.8"/>
<ellipse cx="362.5" cy="392.3" rx="21.3" ry="8.5" fill="#1414e6" fill-opacity="0.5"/>
<ellipse cx="21.3" cy="309.2" rx="21.3" ry="17.1" fill="#1414e6" fill-opacity="0.4"/>
<ellipse cx="266.5" cy="362.5" rx="17.1" ry="12.8" fill="#1414e6" fill-opacity="0.4"/>
<ellipse cx="266.5" cy="64.0" rx="25.6" ry="12.8" fill="#1414e6" fill-opacity="0.35"/>
<ellipse cx="213.2" cy="53.3" rx="17.1" ry="8.5" fill="#1414e6" fill-opacity="0.35"/>
<ellipse cx="64.0" cy="53.3" rx="21.3" ry="12.8" fill="#1414e6" fill-opacity="0.35"/>
<ellipse cx="388.1" cy="234.5" rx="8.5" ry="12.8" fill="#1414e6" fill-opacity="0.45"/>
<ellipse cx="32.0" cy="166.3" rx="21.3" ry="12.8" fill="#1414e6" fill-opacity="0.3"/>
<ellipse cx="390.2" cy="68.2" rx="12.8" ry="21.3" fill="#1414e6" fill-opacity="0.4"/>
<ellipse cx="255.9" cy="388.1" rx="21.3" ry="10.7" fill="#1414e6" fill-opacity="0.4"/>
<ellipse cx="68.2" cy="202.6" rx="25.6" ry="12.8" fill="#1414e6" fill-opacity="0.3"/>
<ellipse cx="319.8" cy="127.9" rx="21.3" ry="17.1" fill="#1414e6" fill-opacity="0.5"/>
<ellipse cx="362.5" cy="149.3" rx="25.6" ry="17.1" fill="#1414e6" fill-opacity="0.5"/>
<ellipse cx="266.5" cy="159.9" rx="21.3" ry="12.8" fill="#1414e6" fill-opacity="0.45"/>
<ellipse cx="362.5" cy="202.6" rx="21.3" ry="17.1" fill="#1414e6" fill-opacity="0.5"/>
<ellipse cx="287.8" cy="223.9" rx="21.3" ry="12.8" fill="#1414e6" fill-opacity="0.45"/>
<ellipse cx="351.8" cy="251.6" rx="21.3" ry="17.1" fill="#1414e6" fill-opacity="0.45"/>
<ellipse cx="383.8" cy="287.8" rx="17.1" ry="17.1" fill="#1414e6" fill-opacity="0.4"/>
<ellipse cx="64.0" cy="287.8" rx="32.0" ry="14.9" fill="#1414e6" fill-opacity="0.4"/>
<ellipse cx="213.2" cy="373.1" rx="21.3" ry="17.1" fill="#1414e6" fill-opacity="0.45"/>
<ellipse cx="149.3" cy="379.5" rx="21.3" ry="14.9" fill="#1414e6" fill-opacity="0.45"/>
<ellipse cx="287.8" cy="341.2" rx="17.1" ry="12.8" fill="#1414e6" fill-opacity="0.35"/>
<ellipse cx="74.6" cy="25.6" rx="17.1" ry="12.8" fill="#1414e6" fill-opacity="0.4"/>
<ellipse cx="234.5" cy="27.7" rx="21.3" ry="10.7" fill="#1414e6" fill-opacity="0.3"/>
<ellipse cx="298.5" cy="32.0" rx="21.3" ry="12.8" fill="#1414e6" fill-opacity="0.35"/>
<ellipse cx="202.6" cy="81.0" rx="21.3" ry="12.8" fill="#1414e6" fill-opacity="0.4"/>
<ellipse cx="149.3" cy="95.9" rx="17.1" ry="14.9" fill="#1414e6" fill-opacity="0.45"/>
<ellipse cx="245.2" cy="149.3" rx="19.2" ry="12.8" fill="#1414e6" fill-opacity="0.4"/>
<ellipse cx="53.3" cy="138.6" rx="25.6" ry="14.9" fill="#1414e6" fill-opacity="0.4"/>
</g>
<g filter="url(#frc)" style="mix-blend-mode:screen">
<rect x="0" y="0" width="400" height="400" fill="#000" fill-opacity="0"/>
<ellipse cx="245.2" cy="179.1" rx="25.6" ry="12.8" fill="#ff1020" fill-opacity="0.5"/>
<ellipse cx="76.8" cy="157.8" rx="8.5" ry="6.4" fill="#ff1020" fill-opacity="0.35"/>
<ellipse cx="234.5" cy="202.6" rx="21.3" ry="8.5" fill="#ff1020" fill-opacity="0.3"/>
<ellipse cx="106.6" cy="102.3" rx="10.7" ry="19.2" fill="#ff1020" fill-opacity="0.2"/>
<ellipse cx="149.3" cy="234.5" rx="38.4" ry="27.7" fill="#ff1020" fill-opacity="0.35"/>
<ellipse cx="213.2" cy="42.6" rx="32.0" ry="12.8" fill="#ff1020" fill-opacity="0.12"/>
<ellipse cx="277.2" cy="266.5" rx="32.0" ry="12.8" fill="#ff1020" fill-opacity="0.15"/>
</g>
<g filter="url(#fr)" style="mix-blend-mode:screen">
<rect x="0" y="0" width="400" height="400" fill="#000" fill-opacity="0"/>
<ellipse cx="170.6" cy="253.7" rx="10.7" ry="4.7" fill="#ff1020" fill-opacity="0.7"/>
<ellipse cx="132.2" cy="234.5" rx="9.6" ry="6.0" fill="#ff1020" fill-opacity="0.8"/>
<ellipse cx="119.4" cy="266.5" rx="6.0" ry="6.0" fill="#ff1020" fill-opacity="0.8"/>
<ellipse cx="238.8" cy="170.6" rx="10.7" ry="5.3" fill="#ff1020" fill-opacity="0.5"/>
<ellipse cx="124.7" cy="251.6" rx="12.8" ry="18.1" fill="none" stroke="#ff1020" stroke-width="5.1" stroke-opacity="0.95" transform="rotate(30 124.7 251.6)"/>
<ellipse cx="166.3" cy="226.0" rx="14.9" ry="19.2" fill="none" stroke="#ff1020" stroke-width="3.0" stroke-opacity="0.45" transform="rotate(10 166.3 226.0)"/>
</g>
<g filter="url(#fg)" style="mix-blend-mode:screen">
<ellipse cx="168.4" cy="182.3" rx="16.2" ry="12.8" fill="#30ff18" fill-opacity="1.0"/>
<ellipse cx="182.3" cy="190.8" rx="6.4" ry="4.7" fill="#30ff18" fill-opacity="1.0"/>
<ellipse cx="187.6" cy="297.4" rx="10.7" ry="14.9" fill="#30ff18" fill-opacity="1.0"/>
<ellipse cx="189.8" cy="226.0" rx="8.5" ry="6.4" fill="#30ff18" fill-opacity="0.3"/>
<ellipse cx="201.5" cy="295.3" rx="7.7" ry="12.8" fill="#40e8a0" fill-opacity="0.7"/>
</g>
</g>
<g transform="translate(143.5 187.6) rotate(180)"><path d="M0 0 L22.8 -13.2 L17.9 0 L22.8 13.2 Z" fill="#fff"/><rect x="16.9" y="-2.2" width="27.2" height="4.5" fill="#fff"/></g>
<g transform="translate(241.6 296.8) rotate(0)"><path d="M0 0 L22.8 -13.2 L17.9 0 L22.8 13.2 Z" fill="#fff"/><rect x="16.9" y="-2.2" width="27.2" height="4.5" fill="#fff"/></g>
<rect x="315.8" y="373.1" width="62.7" height="11.9" fill="#fff"/>
</g>
<g transform="translate(1063 633)" clip-path="url(#cp)">
<rect x="0" y="0" width="400" height="400" fill="#030112"/>
<g style="isolation:isolate">
<rect x="0" y="0" width="400" height="400" fill="#030112"/>
<g filter="url(#fb)" style="mix-blend-mode:screen">
<rect x="0" y="0" width="400" height="400" fill="#000" fill-opacity="0"/>
<ellipse cx="147.1" cy="91.7" rx="23.5" ry="25.6" fill="#104a9a" fill-opacity="0.55"/>
<ellipse cx="36.2" cy="149.3" rx="23.5" ry="25.6" fill="#104a9a" fill-opacity="0.6"/>
<ellipse cx="27.7" cy="17.1" rx="36.2" ry="17.1" fill="#1414e6" fill-opacity="0.45"/>
<ellipse cx="183.4" cy="8.5" rx="25.6" ry="8.5" fill="#1414e6" fill-opacity="0.6"/>
<ellipse cx="127.9" cy="8.5" rx="12.8" ry="6.4" fill="#1414e6" fill-opacity="0.35"/>
<ellipse cx="157.8" cy="27.7" rx="10.7" ry="6.4" fill="#1414e6" fill-opacity="0.65"/>
<ellipse cx="162.0" cy="51.2" rx="21.3" ry="17.1" fill="#1414e6" fill-opacity="0.65"/>
<ellipse cx="44.8" cy="95.9" rx="10.7" ry="9.6" fill="#1414e6" fill-opacity="0.55"/>
<ellipse cx="93.8" cy="100.2" rx="17.1" ry="14.9" fill="#1414e6" fill-opacity="0.5"/>
<ellipse cx="272.9" cy="70.4" rx="19.2" ry="14.9" fill="#1414e6" fill-opacity="0.6"/>
<ellipse cx="223.9" cy="83.2" rx="19.2" ry="17.1" fill="#1414e6" fill-opacity="0.8"/>
<ellipse cx="179.1" cy="125.8" rx="21.3" ry="21.3" fill="#1414e6" fill-opacity="0.75"/>
<ellipse cx="243.1" cy="157.8" rx="19.2" ry="21.3" fill="#1414e6" fill-opacity="0.55"/>
<ellipse cx="113.0" cy="198.3" rx="23.5" ry="19.2" fill="#1414e6" fill-opacity="0.7"/>
<ellipse cx="164.2" cy="232.4" rx="21.3" ry="21.3" fill="#1414e6" fill-opacity="0.75"/>
<ellipse cx="72.5" cy="221.7" rx="21.3" ry="23.5" fill="#1414e6" fill-opacity="0.3"/>
<ellipse cx="221.7" cy="285.7" rx="21.3" ry="21.3" fill="#1414e6" fill-opacity="0.45"/>
<ellipse cx="102.3" cy="328.4" rx="19.2" ry="17.1" fill="#1414e6" fill-opacity="0.8"/>
<ellipse cx="72.5" cy="375.3" rx="19.2" ry="17.1" fill="#1414e6" fill-opacity="0.85" transform="rotate(-30 72.5 375.3)"/>
<ellipse cx="6.4" cy="375.3" rx="8.5" ry="21.3" fill="#1414e6" fill-opacity="0.8"/>
<ellipse cx="371.0" cy="255.9" rx="17.1" ry="10.7" fill="#1414e6" fill-opacity="0.65"/>
<ellipse cx="230.3" cy="381.7" rx="14.9" ry="12.8" fill="#1414e6" fill-opacity="0.65"/>
</g>
<g filter="url(#frc)" style="mix-blend-mode:screen">
<rect x="0" y="0" width="400" height="400" fill="#000" fill-opacity="0"/>
<ellipse cx="215.4" cy="85.3" rx="36.2" ry="26.7" fill="#ff1020" fill-opacity="0.45" transform="rotate(-40 215.4 85.3)"/>
<ellipse cx="181.2" cy="130.1" rx="30.9" ry="28.8" fill="#ff1020" fill-opacity="0.45"/>
<ellipse cx="243.1" cy="157.8" rx="25.6" ry="29.9" fill="#ff1020" fill-opacity="0.6"/>
<ellipse cx="113.0" cy="200.4" rx="32.0" ry="26.7" fill="#ff1020" fill-opacity="0.45"/>
<ellipse cx="209.0" cy="191.9" rx="19.2" ry="17.1" fill="#ff1020" fill-opacity="0.5"/>
<ellipse cx="277.2" cy="296.4" rx="17.1" ry="19.2" fill="#ff1020" fill-opacity="0.6"/>
<ellipse cx="234.5" cy="345.4" rx="17.1" ry="19.2" fill="#ff1020" fill-opacity="0.5"/>
<ellipse cx="100.2" cy="339.0" rx="28.8" ry="26.7" fill="#ff1020" fill-opacity="0.5"/>
<ellipse cx="72.5" cy="381.7" rx="25.6" ry="23.5" fill="#ff1020" fill-opacity="0.3"/>
<ellipse cx="223.9" cy="21.3" rx="12.8" ry="23.5" fill="#ff1020" fill-opacity="0.3"/>
<ellipse cx="200.0" cy="200.0" rx="106.6" ry="127.9" fill="#ff1020" fill-opacity="0.1"/>
<ellipse cx="149.3" cy="362.5" rx="106.6" ry="42.6" fill="#ff1020" fill-opacity="0.12"/>
<ellipse cx="319.8" cy="319.8" rx="64.0" ry="64.0" fill="#ff1020" fill-opacity="0.1"/>
<ellipse cx="170.6" cy="59.7" rx="19.2" ry="14.9" fill="#ff1020" fill-opacity="0.3"/>
<ellipse cx="226.0" cy="245.2" rx="32.0" ry="21.3" fill="#ff1020" fill-opacity="0.35"/>
<ellipse cx="371.0" cy="283.6" rx="25.6" ry="40.5" fill="#ff1020" fill-opacity="0.5"/>
</g>
<g filter="url(#fr)" style="mix-blend-mode:screen">
<rect x="0" y="0" width="400" height="400" fill="#000" fill-opacity="0"/>
<ellipse cx="197.2" cy="137.5" rx="12.4" ry="12.4" fill="#ff1020" fill-opacity="0.95"/>
<ellipse cx="93.8" cy="197.2" rx="6.0" ry="8.1" fill="#ff1020" fill-opacity="0.9"/>
<ellipse cx="149.3" cy="244.1" rx="10.2" ry="8.1" fill="#ff1020" fill-opacity="0.9"/>
<ellipse cx="228.1" cy="260.1" rx="11.1" ry="6.4" fill="#ff1020" fill-opacity="1.0"/>
<ellipse cx="202.6" cy="249.5" rx="3.8" ry="3.0" fill="#ff1020" fill-opacity="1.0"/>
<ellipse cx="215.4" cy="254.8" rx="3.8" ry="3.0" fill="#ff1020" fill-opacity="1.0"/>
<ellipse cx="371.0" cy="283.6" rx="17.1" ry="32.0" fill="#ff1020" fill-opacity="0.85"/>
<ellipse cx="379.5" cy="294.2" rx="9.6" ry="20.3" fill="#ff1020" fill-opacity="1.0"/>
<ellipse cx="221.7" cy="326.2" rx="5.5" ry="4.3" fill="#ff1020" fill-opacity="1.0"/>
<ellipse cx="234.5" cy="383.8" rx="18.1" ry="18.1" fill="#ff1020" fill-opacity="0.8"/>
<ellipse cx="213.2" cy="61.8" rx="11.7" ry="5.5" fill="#ff1020" fill-opacity="0.7"/>
<ellipse cx="238.8" cy="221.7" rx="4.7" ry="3.8" fill="#ff1020" fill-opacity="0.9"/>
<ellipse cx="375.3" cy="14.9" rx="3.0" ry="2.6" fill="#ff1020" fill-opacity="0.9"/>
<ellipse cx="70.4" cy="140.7" rx="1.9" ry="1.9" fill="#ff1020" fill-opacity="0.9"/>
<ellipse cx="162.0" cy="187.6" rx="2.3" ry="2.3" fill="#ff1020" fill-opacity="0.9"/>
<ellipse cx="76.8" cy="254.8" rx="2.8" ry="2.8" fill="#ff1020" fill-opacity="0.8"/>
<ellipse cx="398.7" cy="285.7" rx="3.0" ry="8.5" fill="#ff1020" fill-opacity="0.9"/>
<ellipse cx="307.0" cy="368.9" rx="6.0" ry="3.8" fill="#ff1020" fill-opacity="0.7"/>
<ellipse cx="272.9" cy="285.7" rx="4.7" ry="6.4" fill="#ff1020" fill-opacity="0.9"/>
<ellipse cx="215.4" cy="85.3" rx="29.9" ry="21.3" fill="none" stroke="#ff1020" stroke-width="3.8" stroke-opacity="0.85" transform="rotate(-40 215.4 85.3)"/>
<ellipse cx="181.2" cy="130.1" rx="26.7" ry="24.5" fill="none" stroke="#ff1020" stroke-width="3.4" stroke-opacity="0.65"/>
<ellipse cx="164.2" cy="234.5" rx="22.4" ry="23.5" fill="none" stroke="#ff1020" stroke-width="3.8" stroke-opacity="0.95"/>
<ellipse cx="113.0" cy="200.4" rx="26.7" ry="22.4" fill="none" stroke="#ff1020" stroke-width="3.4" stroke-opacity="0.45"/>
<ellipse cx="100.2" cy="336.9" rx="24.5" ry="22.4" fill="none" stroke="#ff1020" stroke-width="3.4" stroke-opacity="0.45"/>
<ellipse cx="243.1" cy="157.8" rx="21.3" ry="25.6" fill="none" stroke="#ff1020" stroke-width="3.4" stroke-opacity="0.35"/>
</g>
<g filter="url(#fg)" style="mix-blend-mode:screen">
<ellipse cx="262.3" cy="232.4" rx="10.2" ry="7.2" fill="#30ff18" fill-opacity="1.0"/>
<ellipse cx="253.7" cy="230.3" rx="5.1" ry="5.1" fill="#30ff18" fill-opacity="0.6"/>
</g>
</g>
<g transform="translate(282.5 232.4) rotate(0)"><path d="M0 0 L22.8 -13.2 L17.9 0 L22.8 13.2 Z" fill="#fff"/><rect x="16.9" y="-2.2" width="27.9" height="4.5" fill="#fff"/></g>
<rect x="304.5" y="373.1" width="74.0" height="11.3" fill="#fff"/>
</g>
<g transform="translate(1472 633)" clip-path="url(#cp)">
<rect x="0" y="0" width="400" height="400" fill="#040116"/>
<g style="isolation:isolate">
<rect x="0" y="0" width="400" height="400" fill="#040116"/>
<g filter="url(#fb)" style="mix-blend-mode:screen">
<rect x="0" y="0" width="400" height="400" fill="#000" fill-opacity="0"/>
<ellipse cx="383.8" cy="272.9" rx="17.1" ry="34.1" fill="#104a9a" fill-opacity="0.75" transform="rotate(-30 383.8 272.9)"/>
<ellipse cx="202.6" cy="78.9" rx="10.7" ry="8.5" fill="#104a9a" fill-opacity="0.45"/>
<ellipse cx="392.3" cy="191.9" rx="12.8" ry="17.1" fill="#104a9a" fill-opacity="0.3"/>
<ellipse cx="72.5" cy="72.5" rx="17.1" ry="21.3" fill="#1414e6" fill-opacity="0.6"/>
<ellipse cx="140.7" cy="102.3" rx="19.2" ry="21.3" fill="#1414e6" fill-opacity="0.7"/>
<ellipse cx="17.1" cy="125.8" rx="17.1" ry="17.1" fill="#1414e6" fill-opacity="0.7"/>
<ellipse cx="132.2" cy="162.0" rx="27.7" ry="17.1" fill="#1414e6" fill-opacity="0.85"/>
<ellipse cx="57.6" cy="166.3" rx="17.1" ry="14.9" fill="#1414e6" fill-opacity="0.5"/>
<ellipse cx="181.2" cy="136.5" rx="14.9" ry="17.1" fill="#1414e6" fill-opacity="0.6"/>
<ellipse cx="219.6" cy="132.2" rx="19.2" ry="21.3" fill="#1414e6" fill-opacity="0.9"/>
<ellipse cx="249.5" cy="125.8" rx="12.8" ry="12.8" fill="#1414e6" fill-opacity="0.8"/>
<ellipse cx="294.2" cy="61.8" rx="17.1" ry="19.2" fill="#1414e6" fill-opacity="0.8"/>
<ellipse cx="281.4" cy="164.2" rx="12.8" ry="23.5" fill="#1414e6" fill-opacity="0.8"/>
<ellipse cx="200.4" cy="179.1" rx="17.1" ry="14.9" fill="#1414e6" fill-opacity="0.7"/>
<ellipse cx="170.6" cy="202.6" rx="19.2" ry="14.9" fill="#1414e6" fill-opacity="0.8"/>
<ellipse cx="191.9" cy="221.7" rx="17.1" ry="12.8" fill="#1414e6" fill-opacity="0.8"/>
<ellipse cx="38.4" cy="249.5" rx="27.7" ry="23.5" fill="#1414e6" fill-opacity="0.95"/>
<ellipse cx="136.5" cy="238.8" rx="21.3" ry="17.1" fill="#1414e6" fill-opacity="0.8"/>
<ellipse cx="177.0" cy="264.4" rx="21.3" ry="21.3" fill="#1414e6" fill-opacity="0.7"/>
<ellipse cx="234.5" cy="277.2" rx="27.7" ry="42.6" fill="#1414e6" fill-opacity="0.8" transform="rotate(20 234.5 277.2)"/>
<ellipse cx="266.5" cy="223.9" rx="12.8" ry="21.3" fill="#1414e6" fill-opacity="0.6"/>
<ellipse cx="72.5" cy="309.2" rx="17.1" ry="17.1" fill="#1414e6" fill-opacity="0.8"/>
<ellipse cx="119.4" cy="345.4" rx="17.1" ry="21.3" fill="#1414e6" fill-opacity="0.9"/>
<ellipse cx="170.6" cy="309.2" rx="17.1" ry="17.1" fill="#1414e6" fill-opacity="0.6"/>
<ellipse cx="266.5" cy="319.8" rx="21.3" ry="17.1" fill="#1414e6" fill-opacity="0.7"/>
<ellipse cx="332.6" cy="290.0" rx="17.1" ry="17.1" fill="#1414e6" fill-opacity="0.7"/>
<ellipse cx="362.5" cy="345.4" rx="25.6" ry="17.1" fill="#1414e6" fill-opacity="0.6"/>
<ellipse cx="64.0" cy="381.7" rx="17.1" ry="10.7" fill="#1414e6" fill-opacity="0.8"/>
<ellipse cx="138.6" cy="388.1" rx="21.3" ry="10.7" fill="#1414e6" fill-opacity="0.7"/>
<ellipse cx="213.2" cy="362.5" rx="21.3" ry="17.1" fill="#1414e6" fill-opacity="0.6"/>
<ellipse cx="298.5" cy="366.7" rx="17.1" ry="17.1" fill="#1414e6" fill-opacity="0.7"/>
<ellipse cx="42.6" cy="38.4" rx="21.3" ry="17.1" fill="#1414e6" fill-opacity="0.3"/>
<ellipse cx="234.5" cy="379.5" rx="32.0" ry="17.1" fill="#1414e6" fill-opacity="0.55"/>
<ellipse cx="95.9" cy="266.5" rx="21.3" ry="17.1" fill="#1414e6" fill-opacity="0.45"/>
<ellipse cx="32.0" cy="85.3" rx="17.1" ry="21.3" fill="#1414e6" fill-opacity="0.35"/>
<ellipse cx="383.8" cy="379.5" rx="12.8" ry="17.1" fill="#1414e6" fill-opacity="0.65"/>
<ellipse cx="298.5" cy="234.5" rx="17.1" ry="25.6" fill="#1414e6" fill-opacity="0.4"/>
<ellipse cx="315.6" cy="93.8" rx="12.8" ry="21.3" fill="#1414e6" fill-opacity="0.3"/>
</g>
<g filter="url(#frc)" style="mix-blend-mode:screen">
<rect x="0" y="0" width="400" height="400" fill="#000" fill-opacity="0"/>
<ellipse cx="85.3" cy="149.3" rx="85.3" ry="70.4" fill="#ff1020" fill-opacity="0.6"/>
<ellipse cx="149.3" cy="298.5" rx="132.2" ry="102.3" fill="#ff1020" fill-opacity="0.68"/>
<ellipse cx="255.9" cy="181.2" rx="49.0" ry="89.6" fill="#ff1020" fill-opacity="0.65"/>
<ellipse cx="294.2" cy="70.4" rx="23.5" ry="27.7" fill="#ff1020" fill-opacity="0.5"/>
<ellipse cx="85.3" cy="70.4" rx="40.5" ry="32.0" fill="#ff1020" fill-opacity="0.45"/>
<ellipse cx="345.4" cy="324.1" rx="53.3" ry="49.0" fill="#ff1020" fill-opacity="0.55"/>
<ellipse cx="32.0" cy="53.3" rx="25.6" ry="21.3" fill="#ff1020" fill-opacity="0.25"/>
<ellipse cx="362.5" cy="234.5" rx="29.9" ry="8.5" fill="#ff1020" fill-opacity="0.35"/>
</g>
<g filter="url(#fr)" style="mix-blend-mode:screen">
<rect x="0" y="0" width="400" height="400" fill="#000" fill-opacity="0"/>
<ellipse cx="272.9" cy="136.5" rx="15.4" ry="12.8" fill="#ff1020" fill-opacity="1.0"/>
<ellipse cx="121.5" cy="102.3" rx="4.7" ry="6.8" fill="#ff1020" fill-opacity="1.0"/>
<ellipse cx="119.4" cy="255.9" rx="12.8" ry="9.0" fill="#ff1020" fill-opacity="0.95"/>
<ellipse cx="149.3" cy="261.2" rx="10.2" ry="8.1" fill="#ff1020" fill-opacity="0.95"/>
<ellipse cx="213.2" cy="341.2" rx="16.0" ry="9.6" fill="#ff1020" fill-opacity="0.9"/>
<ellipse cx="64.0" cy="324.1" rx="13.9" ry="8.1" fill="#ff1020" fill-opacity="0.9"/>
<ellipse cx="234.5" cy="322.0" rx="11.7" ry="8.1" fill="#ff1020" fill-opacity="0.8"/>
<ellipse cx="95.9" cy="251.6" rx="9.6" ry="8.1" fill="#ff1020" fill-opacity="0.8"/>
<ellipse cx="255.9" cy="102.3" rx="16.0" ry="8.1" fill="#ff1020" fill-opacity="0.8"/>
<ellipse cx="117.3" cy="149.3" rx="23.5" ry="9.6" fill="#ff1020" fill-opacity="0.6"/>
<ellipse cx="223.9" cy="255.9" rx="11.7" ry="6.0" fill="#ff1020" fill-opacity="0.8"/>
<ellipse cx="191.9" cy="379.5" rx="20.3" ry="8.1" fill="#ff1020" fill-opacity="0.8"/>
<ellipse cx="74.6" cy="394.5" rx="29.9" ry="6.0" fill="#ff1020" fill-opacity="0.8"/>
<ellipse cx="70.4" cy="202.6" rx="16.0" ry="9.6" fill="#ff1020" fill-opacity="0.7"/>
<ellipse cx="262.3" cy="255.9" rx="8.1" ry="11.7" fill="#ff1020" fill-opacity="0.8"/>
<ellipse cx="38.4" cy="251.6" rx="32.0" ry="27.7" fill="none" stroke="#ff1020" stroke-width="3.8" stroke-opacity="0.95"/>
<ellipse cx="119.4" cy="349.7" rx="21.3" ry="23.5" fill="none" stroke="#ff1020" stroke-width="3.8" stroke-opacity="0.9"/>
<ellipse cx="287.8" cy="170.6" rx="14.9" ry="29.9" fill="none" stroke="#ff1020" stroke-width="3.8" stroke-opacity="0.95" transform="rotate(10 287.8 170.6)"/>
<ellipse cx="294.2" cy="64.0" rx="22.4" ry="23.5" fill="none" stroke="#ff1020" stroke-width="3.4" stroke-opacity="0.8"/>
<ellipse cx="132.2" cy="164.2" rx="34.1" ry="21.3" fill="none" stroke="#ff1020" stroke-width="4.3" stroke-opacity="0.7" transform="rotate(-10 132.2 164.2)"/>
<ellipse cx="72.5" cy="74.6" rx="23.5" ry="27.7" fill="none" stroke="#ff1020" stroke-width="3.8" stroke-opacity="0.6" transform="rotate(20 72.5 74.6)"/>
<ellipse cx="198.3" cy="294.2" rx="14.9" ry="17.1" fill="none" stroke="#ff1020" stroke-width="2.1" stroke-opacity="0.8"/>
<ellipse cx="345.4" cy="298.5" rx="27.7" ry="29.9" fill="none" stroke="#ff1020" stroke-width="3.8" stroke-opacity="0.6"/>
<ellipse cx="234.5" cy="277.2" rx="36.2" ry="49.0" fill="none" stroke="#ff1020" stroke-width="3.8" stroke-opacity="0.6" transform="rotate(20 234.5 277.2)"/>
<ellipse cx="136.5" cy="106.6" rx="23.5" ry="25.6" fill="none" stroke="#ff1020" stroke-width="3.8" stroke-opacity="0.6"/>
<ellipse cx="64.0" cy="315.6" rx="27.7" ry="23.5" fill="none" stroke="#ff1020" stroke-width="3.8" stroke-opacity="0.7"/>
<ellipse cx="213.2" cy="345.4" rx="32.0" ry="23.5" fill="none" stroke="#ff1020" stroke-width="3.8" stroke-opacity="0.6"/>
<ellipse cx="181.2" cy="202.6" rx="21.3" ry="19.2" fill="none" stroke="#ff1020" stroke-width="3.0" stroke-opacity="0.7"/>
<ellipse cx="177.0" cy="264.4" rx="23.5" ry="23.5" fill="none" stroke="#ff1020" stroke-width="3.0" stroke-opacity="0.6"/>
<ellipse cx="136.5" cy="240.9" rx="23.5" ry="19.2" fill="none" stroke="#ff1020" stroke-width="3.0" stroke-opacity="0.7"/>
<ellipse cx="266.5" cy="319.8" rx="23.5" ry="19.2" fill="none" stroke="#ff1020" stroke-width="3.0" stroke-opacity="0.6"/>
<ellipse cx="170.6" cy="311.3" rx="19.2" ry="19.2" fill="none" stroke="#ff1020" stroke-width="3.0" stroke-opacity="0.6"/>
<ellipse cx="298.5" cy="366.7" rx="19.2" ry="19.2" fill="none" stroke="#ff1020" stroke-width="3.0" stroke-opacity="0.6"/>
<ellipse cx="362.5" cy="345.4" rx="27.7" ry="19.2" fill="none" stroke="#ff1020" stroke-width="3.0" stroke-opacity="0.6"/>
<ellipse cx="17.1" cy="125.8" rx="19.2" ry="19.2" fill="none" stroke="#ff1020" stroke-width="3.0" stroke-opacity="0.6"/>
<ellipse cx="57.6" cy="166.3" rx="19.2" ry="17.1" fill="none" stroke="#ff1020" stroke-width="3.0" stroke-opacity="0.5"/>
<ellipse cx="219.6" cy="132.2" rx="21.3" ry="23.5" fill="none" stroke="#ff1020" stroke-width="3.0" stroke-opacity="0.5"/>
<ellipse cx="138.6" cy="388.1" rx="23.5" ry="12.8" fill="none" stroke="#ff1020" stroke-width="3.0" stroke-opacity="0.6"/>
<ellipse cx="64.0" cy="381.7" rx="19.2" ry="12.8" fill="none" stroke="#ff1020" stroke-width="3.0" stroke-opacity="0.7"/>
<ellipse cx="95.9" cy="266.5" rx="23.5" ry="19.2" fill="none" stroke="#ff1020" stroke-width="3.0" stroke-opacity="0.6"/>
</g>
<g filter="url(#fd)">
<ellipse cx="115.1" cy="204.7" rx="61.8" ry="11.7" fill="#040116" fill-opacity="0.85" transform="rotate(-12 115.1 204.7)"/>
<ellipse cx="95.9" cy="100.2" rx="14.9" ry="12.8" fill="#040116" fill-opacity="0.6"/>
<ellipse cx="164.2" cy="162.0" rx="9.6" ry="21.3" fill="#040116" fill-opacity="0.5"/>
<ellipse cx="19.2" cy="309.2" rx="17.1" ry="42.6" fill="#040116" fill-opacity="0.7"/>
<ellipse cx="315.6" cy="255.9" rx="25.6" ry="32.0" fill="#040116" fill-opacity="0.6"/>
<ellipse cx="12.8" cy="191.9" rx="14.9" ry="19.2" fill="#040116" fill-opacity="0.6"/>
<ellipse cx="64.0" cy="121.5" rx="12.8" ry="10.7" fill="#040116" fill-opacity="0.45"/>
<ellipse cx="209.0" cy="102.3" rx="12.8" ry="12.8" fill="#040116" fill-opacity="0.4"/>
</g>
<g filter="url(#fg)" style="mix-blend-mode:screen">
<ellipse cx="226.0" cy="193.0" rx="10.7" ry="14.9" fill="#a8d020" fill-opacity="0.85" transform="rotate(15 226.0 193.0)"/>
<ellipse cx="231.3" cy="184.4" rx="8.5" ry="7.7" fill="#d8e020" fill-opacity="0.9"/>
<ellipse cx="242.0" cy="185.5" rx="7.2" ry="8.5" fill="#e08020" fill-opacity="0.55"/>
<ellipse cx="222.8" cy="202.6" rx="6.0" ry="6.4" fill="#90d030" fill-opacity="0.6"/>
</g>
</g>
<g transform="translate(252.7 191.9) rotate(0)"><path d="M0 0 L22.8 -13.2 L17.9 0 L22.8 13.2 Z" fill="#fff"/><rect x="16.9" y="-2.2" width="27.9" height="4.5" fill="#fff"/></g>
<rect x="303.8" y="372.3" width="74.2" height="11.5" fill="#fff"/>
</g>
<text x="1041.0" y="424.0" font-size="38.5" text-anchor="middle" transform="rotate(-90 1041.0 424.0)">Mucosa</text>
<text x="1041.0" y="833.0" font-size="38.5" text-anchor="middle" transform="rotate(-90 1041.0 833.0)">Lumen</text>
</g>
<g id="panel-d">
<text x="481.0" y="1210.5" font-size="54" font-weight="bold">d</text>
<rect x="675.6" y="1637.6" width="48.3" height="24.2" fill="#27aa84" stroke="#000" stroke-width="2.4"/>
<rect x="753.3" y="1597.3" width="48.0" height="64.5" fill="#2d7b91" stroke="#000" stroke-width="2.4"/>
<rect x="831.1" y="1521.9" width="48.4" height="139.9" fill="#44468a" stroke="#000" stroke-width="2.4"/>
<rect x="909.3" y="1361.5" width="48.0" height="300.3" fill="#753f80" stroke="#000" stroke-width="2.4"/>
<line x1="699.7" y1="1630.1" x2="699.7" y2="1644.0" stroke="#000" stroke-width="2.3" stroke-linecap="butt"/>
<line x1="686.9" y1="1630.1" x2="712.5" y2="1630.1" stroke="#000" stroke-width="2.3" stroke-linecap="butt"/>
<line x1="686.9" y1="1644.0" x2="712.5" y2="1644.0" stroke="#000" stroke-width="2.3" stroke-linecap="butt"/>
<line x1="777.1" y1="1588.6" x2="777.1" y2="1603.5" stroke="#000" stroke-width="2.3" stroke-linecap="butt"/>
<line x1="764.3" y1="1588.6" x2="789.9" y2="1588.6" stroke="#000" stroke-width="2.3" stroke-linecap="butt"/>
<line x1="764.3" y1="1603.5" x2="789.9" y2="1603.5" stroke="#000" stroke-width="2.3" stroke-linecap="butt"/>
<line x1="855.3" y1="1496.7" x2="855.3" y2="1545.1" stroke="#000" stroke-width="2.3" stroke-linecap="butt"/>
<line x1="842.5" y1="1496.7" x2="868.1" y2="1496.7" stroke="#000" stroke-width="2.3" stroke-linecap="butt"/>
<line x1="842.5" y1="1545.1" x2="868.1" y2="1545.1" stroke="#000" stroke-width="2.3" stroke-linecap="butt"/>
<line x1="932.7" y1="1331.0" x2="932.7" y2="1390.3" stroke="#000" stroke-width="2.3" stroke-linecap="butt"/>
<line x1="919.9" y1="1331.0" x2="945.5" y2="1331.0" stroke="#000" stroke-width="2.3" stroke-linecap="butt"/>
<line x1="919.9" y1="1390.3" x2="945.5" y2="1390.3" stroke="#000" stroke-width="2.3" stroke-linecap="butt"/>
<circle cx="682.8" cy="1645.9" r="9" fill="#000"/>
<circle cx="699.7" cy="1635.0" r="9" fill="#000"/>
<circle cx="717.1" cy="1619.7" r="9" fill="#000"/>
<circle cx="717.1" cy="1646.7" r="9" fill="#000"/>
<circle cx="759.8" cy="1582.6" r="9" fill="#000"/>
<circle cx="759.8" cy="1608.8" r="9" fill="#000"/>
<circle cx="794.5" cy="1598.7" r="9" fill="#000"/>
<circle cx="855.3" cy="1456.8" r="9" fill="#000"/>
<circle cx="838.0" cy="1518.9" r="9" fill="#000"/>
<circle cx="872.3" cy="1535.0" r="9" fill="#000"/>
<circle cx="855.3" cy="1573.3" r="9" fill="#000"/>
<circle cx="932.7" cy="1302.4" r="9" fill="#000"/>
<circle cx="949.7" cy="1381.8" r="9" fill="#000"/>
<circle cx="915.8" cy="1398.8" r="9" fill="#000"/>
<line x1="647.8" y1="1209.1" x2="647.8" y2="1663.8" stroke="#000" stroke-width="5.3" stroke-linecap="butt"/>
<line x1="624.4" y1="1661.2" x2="988.7" y2="1661.2" stroke="#000" stroke-width="5.3" stroke-linecap="butt"/>
<line x1="624.4" y1="1211.7" x2="647.8" y2="1211.7" stroke="#000" stroke-width="5.2" stroke-linecap="butt"/>
<text x="617.6" y="1225.7" font-size="39.2" text-anchor="end">2.5</text>
<line x1="624.4" y1="1301.6" x2="647.8" y2="1301.6" stroke="#000" stroke-width="5.2" stroke-linecap="butt"/>
<text x="617.6" y="1315.6" font-size="39.2" text-anchor="end">2.0</text>
<line x1="624.4" y1="1391.5" x2="647.8" y2="1391.5" stroke="#000" stroke-width="5.2" stroke-linecap="butt"/>
<text x="617.6" y="1405.5" font-size="39.2" text-anchor="end">1.5</text>
<line x1="624.4" y1="1481.4" x2="647.8" y2="1481.4" stroke="#000" stroke-width="5.2" stroke-linecap="butt"/>
<text x="617.6" y="1495.4" font-size="39.2" text-anchor="end">1.0</text>
<line x1="624.4" y1="1571.3" x2="647.8" y2="1571.3" stroke="#000" stroke-width="5.2" stroke-linecap="butt"/>
<text x="617.6" y="1585.3" font-size="39.2" text-anchor="end">0.5</text>
<line x1="624.4" y1="1661.2" x2="647.8" y2="1661.2" stroke="#000" stroke-width="5.2" stroke-linecap="butt"/>
<text x="617.6" y="1675.2" font-size="39.2" text-anchor="end">0.0</text>
<line x1="698.9" y1="1661.2" x2="698.9" y2="1686.7" stroke="#000" stroke-width="5.2" stroke-linecap="butt"/>
<text x="710.5" y="1715.2" font-size="40" text-anchor="end" transform="rotate(-45 710.5 1715.2)">Medium</text>
<line x1="777.1" y1="1661.2" x2="777.1" y2="1686.7" stroke="#000" stroke-width="5.2" stroke-linecap="butt"/>
<text x="788.7" y="1715.2" font-size="40" text-anchor="end" transform="rotate(-45 788.7 1715.2)">BMMC</text>
<line x1="855.3" y1="1661.2" x2="855.3" y2="1686.7" stroke="#000" stroke-width="5.2" stroke-linecap="butt"/>
<text x="866.9" y="1715.2" font-size="40" text-anchor="end" transform="rotate(-45 866.9 1715.2)">S.Tm</text>
<line x1="933.1" y1="1661.2" x2="933.1" y2="1686.7" stroke="#000" stroke-width="5.2" stroke-linecap="butt"/>
<text x="944.7" y="1715.2" font-size="40" text-anchor="end" transform="rotate(-45 944.7 1715.2)">BMMC+S.Tm</text>
<text x="702.6" y="1614.4" font-size="50" text-anchor="middle" stroke="#000" stroke-width="0.6">***</text>
<text x="777.5" y="1580.2" font-size="50" text-anchor="middle" stroke="#000" stroke-width="0.6">***</text>
<text x="855.7" y="1450.0" font-size="50" text-anchor="middle" stroke="#000" stroke-width="0.6">***</text>
<text x="669.5" y="1238.7" font-size="39.4">Trypan blue-</text>
<text x="534.5" y="1439.5" font-size="41" text-anchor="middle" transform="rotate(-90 534.5 1439.5)">Cell number (10<tspan font-size="27" dy="-14.5">5</tspan><tspan dy="14.5">)</tspan></text>
</g>
<g id="panel-e">
<text x="986.0" y="1210.5" font-size="54" font-weight="bold">e</text>
<rect x="1182.7" y="1641.6" width="48.4" height="20.2" fill="#27aa84" stroke="#000" stroke-width="2.4"/>
<rect x="1260.5" y="1604.9" width="48.0" height="56.9" fill="#2d7b91" stroke="#000" stroke-width="2.4"/>
<rect x="1338.3" y="1490.5" width="48.0" height="171.3" fill="#44468a" stroke="#000" stroke-width="2.4"/>
<rect x="1416.1" y="1301.4" width="48.0" height="360.4" fill="#753f80" stroke="#000" stroke-width="2.4"/>
<line x1="1206.5" y1="1635.0" x2="1206.5" y2="1647.0" stroke="#000" stroke-width="2.3" stroke-linecap="butt"/>
<line x1="1193.7" y1="1635.0" x2="1219.3" y2="1635.0" stroke="#000" stroke-width="2.3" stroke-linecap="butt"/>
<line x1="1193.7" y1="1647.0" x2="1219.3" y2="1647.0" stroke="#000" stroke-width="2.3" stroke-linecap="butt"/>
<line x1="1284.3" y1="1600.7" x2="1284.3" y2="1608.0" stroke="#000" stroke-width="2.3" stroke-linecap="butt"/>
<line x1="1271.5" y1="1600.7" x2="1297.1" y2="1600.7" stroke="#000" stroke-width="2.3" stroke-linecap="butt"/>
<line x1="1271.5" y1="1608.0" x2="1297.1" y2="1608.0" stroke="#000" stroke-width="2.3" stroke-linecap="butt"/>
<line x1="1362.1" y1="1469.7" x2="1362.1" y2="1508.4" stroke="#000" stroke-width="2.3" stroke-linecap="butt"/>
<line x1="1349.3" y1="1469.7" x2="1374.9" y2="1469.7" stroke="#000" stroke-width="2.3" stroke-linecap="butt"/>
<line x1="1349.3" y1="1508.4" x2="1374.9" y2="1508.4" stroke="#000" stroke-width="2.3" stroke-linecap="butt"/>
<line x1="1440.3" y1="1275.8" x2="1440.3" y2="1324.6" stroke="#000" stroke-width="2.3" stroke-linecap="butt"/>
<line x1="1427.5" y1="1275.8" x2="1453.1" y2="1275.8" stroke="#000" stroke-width="2.3" stroke-linecap="butt"/>
<line x1="1427.5" y1="1324.6" x2="1453.1" y2="1324.6" stroke="#000" stroke-width="2.3" stroke-linecap="butt"/>
<circle cx="1189.6" cy="1647.8" r="9" fill="#000"/>
<circle cx="1206.5" cy="1641.0" r="9" fill="#000"/>
<circle cx="1223.8" cy="1627.7" r="9" fill="#000"/>
<circle cx="1223.8" cy="1647.8" r="9" fill="#000"/>
<circle cx="1267.4" cy="1610.0" r="9" fill="#000"/>
<circle cx="1284.3" cy="1599.5" r="9" fill="#000"/>
<circle cx="1301.2" cy="1604.7" r="9" fill="#000"/>
<circle cx="1362.1" cy="1448.3" r="9" fill="#000"/>
<circle cx="1362.1" cy="1464.5" r="9" fill="#000"/>
<circle cx="1379.0" cy="1516.9" r="9" fill="#000"/>
<circle cx="1345.2" cy="1527.7" r="9" fill="#000"/>
<circle cx="1440.3" cy="1251.2" r="9" fill="#000"/>
<circle cx="1457.2" cy="1319.4" r="9" fill="#000"/>
<circle cx="1423.4" cy="1328.6" r="9" fill="#000"/>
<line x1="1156.2" y1="1209.1" x2="1156.2" y2="1663.8" stroke="#000" stroke-width="5.3" stroke-linecap="butt"/>
<line x1="1131.1" y1="1661.2" x2="1495.9" y2="1661.2" stroke="#000" stroke-width="5.3" stroke-linecap="butt"/>
<line x1="1131.1" y1="1211.7" x2="1156.2" y2="1211.7" stroke="#000" stroke-width="5.2" stroke-linecap="butt"/>
<text x="1124.3" y="1225.7" font-size="39.2" text-anchor="end">1.0</text>
<line x1="1131.1" y1="1301.6" x2="1156.2" y2="1301.6" stroke="#000" stroke-width="5.2" stroke-linecap="butt"/>
<text x="1124.3" y="1315.6" font-size="39.2" text-anchor="end">0.8</text>
<line x1="1131.1" y1="1391.5" x2="1156.2" y2="1391.5" stroke="#000" stroke-width="5.2" stroke-linecap="butt"/>
<text x="1124.3" y="1405.5" font-size="39.2" text-anchor="end">0.6</text>
<line x1="1131.1" y1="1481.4" x2="1156.2" y2="1481.4" stroke="#000" stroke-width="5.2" stroke-linecap="butt"/>
<text x="1124.3" y="1495.4" font-size="39.2" text-anchor="end">0.4</text>
<line x1="1131.1" y1="1571.3" x2="1156.2" y2="1571.3" stroke="#000" stroke-width="5.2" stroke-linecap="butt"/>
<text x="1124.3" y="1585.3" font-size="39.2" text-anchor="end">0.2</text>
<line x1="1131.1" y1="1661.2" x2="1156.2" y2="1661.2" stroke="#000" stroke-width="5.2" stroke-linecap="butt"/>
<text x="1124.3" y="1675.2" font-size="39.2" text-anchor="end">0.0</text>
<line x1="1206.1" y1="1661.2" x2="1206.1" y2="1686.7" stroke="#000" stroke-width="5.2" stroke-linecap="butt"/>
<text x="1227.7" y="1715.2" font-size="40" text-anchor="end" transform="rotate(-45 1227.7 1715.2)">Medium</text>
<line x1="1283.9" y1="1661.2" x2="1283.9" y2="1686.7" stroke="#000" stroke-width="5.2" stroke-linecap="butt"/>
<text x="1305.5" y="1715.2" font-size="40" text-anchor="end" transform="rotate(-45 1305.5 1715.2)">BMMC</text>
<line x1="1362.1" y1="1661.2" x2="1362.1" y2="1686.7" stroke="#000" stroke-width="5.2" stroke-linecap="butt"/>
<text x="1383.7" y="1715.2" font-size="40" text-anchor="end" transform="rotate(-45 1383.7 1715.2)">S.Tm</text>
<line x1="1439.9" y1="1661.2" x2="1439.9" y2="1686.7" stroke="#000" stroke-width="5.2" stroke-linecap="butt"/>
<text x="1461.5" y="1715.2" font-size="40" text-anchor="end" transform="rotate(-45 1461.5 1715.2)">BMMC+S.Tm</text>
<text x="1206.9" y="1622.5" font-size="50" text-anchor="middle" stroke="#000" stroke-width="0.6">***</text>
<text x="1285.1" y="1594.3" font-size="50" text-anchor="middle" stroke="#000" stroke-width="0.6">***</text>
<text x="1361.7" y="1443.1" font-size="50" text-anchor="middle" stroke="#000" stroke-width="0.6">***</text>
<text x="1211.8" y="1238.7" font-size="39.4">CD45+</text>
<text x="1211.8" y="1286.7" font-size="39.4">CD11b+</text>
<text x="1211.8" y="1334.7" font-size="39.4">CD11c-</text>
<text x="1040.0" y="1439.5" font-size="41" text-anchor="middle" transform="rotate(-90 1040.0 1439.5)">Cell number (10<tspan font-size="27" dy="-14.5">5</tspan><tspan dy="14.5">)</tspan></text>
</g>
<g id="panel-f">
<text x="1493.0" y="1210.5" font-size="54" font-weight="bold">f</text>
<rect x="1686.8" y="1644.4" width="48.4" height="15.3" fill="#27aa84" stroke="#000" stroke-width="2.4"/>
<rect x="1764.6" y="1616.6" width="48.0" height="43.1" fill="#2d7b91" stroke="#000" stroke-width="2.4"/>
<rect x="1842.4" y="1535.2" width="48.0" height="124.5" fill="#44468a" stroke="#000" stroke-width="2.4"/>
<rect x="1920.6" y="1367.1" width="48.0" height="292.6" fill="#753f80" stroke="#000" stroke-width="2.4"/>
<line x1="1711.0" y1="1638.2" x2="1711.0" y2="1650.0" stroke="#000" stroke-width="2.3" stroke-linecap="butt"/>
<line x1="1698.2" y1="1638.2" x2="1723.8" y2="1638.2" stroke="#000" stroke-width="2.3" stroke-linecap="butt"/>
<line x1="1698.2" y1="1650.0" x2="1723.8" y2="1650.0" stroke="#000" stroke-width="2.3" stroke-linecap="butt"/>
<line x1="1788.8" y1="1605.5" x2="1788.8" y2="1624.9" stroke="#000" stroke-width="2.3" stroke-linecap="butt"/>
<line x1="1776.0" y1="1605.5" x2="1801.6" y2="1605.5" stroke="#000" stroke-width="2.3" stroke-linecap="butt"/>
<line x1="1776.0" y1="1624.9" x2="1801.6" y2="1624.9" stroke="#000" stroke-width="2.3" stroke-linecap="butt"/>
<line x1="1866.6" y1="1504.0" x2="1866.6" y2="1564.0" stroke="#000" stroke-width="2.3" stroke-linecap="butt"/>
<line x1="1853.8" y1="1504.0" x2="1879.4" y2="1504.0" stroke="#000" stroke-width="2.3" stroke-linecap="butt"/>
<line x1="1853.8" y1="1564.0" x2="1879.4" y2="1564.0" stroke="#000" stroke-width="2.3" stroke-linecap="butt"/>
<line x1="1944.4" y1="1330.2" x2="1944.4" y2="1401.2" stroke="#000" stroke-width="2.3" stroke-linecap="butt"/>
<line x1="1931.6" y1="1330.2" x2="1957.2" y2="1330.2" stroke="#000" stroke-width="2.3" stroke-linecap="butt"/>
<line x1="1931.6" y1="1401.2" x2="1957.2" y2="1401.2" stroke="#000" stroke-width="2.3" stroke-linecap="butt"/>
<circle cx="1694.1" cy="1651.0" r="9" fill="#000"/>
<circle cx="1711.0" cy="1641.0" r="9" fill="#000"/>
<circle cx="1728.0" cy="1628.5" r="9" fill="#000"/>
<circle cx="1728.0" cy="1651.0" r="9" fill="#000"/>
<circle cx="1771.5" cy="1599.5" r="9" fill="#000"/>
<circle cx="1805.7" cy="1614.4" r="9" fill="#000"/>
<circle cx="1788.8" cy="1631.7" r="9" fill="#000"/>
<circle cx="1866.6" cy="1453.2" r="9" fill="#000"/>
<circle cx="1866.6" cy="1525.7" r="9" fill="#000"/>
<circle cx="1866.6" cy="1568.0" r="9" fill="#000"/>
<circle cx="1866.6" cy="1590.2" r="9" fill="#000"/>
<circle cx="1944.4" cy="1306.0" r="9" fill="#000"/>
<circle cx="1944.4" cy="1361.7" r="9" fill="#000"/>
<circle cx="1944.4" cy="1428.6" r="9" fill="#000"/>
<line x1="1659.9" y1="1206.7" x2="1659.9" y2="1661.7" stroke="#000" stroke-width="5.3" stroke-linecap="butt"/>
<line x1="1635.3" y1="1659.1" x2="2000.0" y2="1659.1" stroke="#000" stroke-width="5.3" stroke-linecap="butt"/>
<line x1="1635.3" y1="1209.3" x2="1659.9" y2="1209.3" stroke="#000" stroke-width="5.2" stroke-linecap="butt"/>
<text x="1628.5" y="1223.3" font-size="39.2" text-anchor="end">2.0</text>
<line x1="1635.3" y1="1321.8" x2="1659.9" y2="1321.8" stroke="#000" stroke-width="5.2" stroke-linecap="butt"/>
<text x="1628.5" y="1335.8" font-size="39.2" text-anchor="end">1.5</text>
<line x1="1635.3" y1="1434.2" x2="1659.9" y2="1434.2" stroke="#000" stroke-width="5.2" stroke-linecap="butt"/>
<text x="1628.5" y="1448.2" font-size="39.2" text-anchor="end">1.0</text>
<line x1="1635.3" y1="1546.7" x2="1659.9" y2="1546.7" stroke="#000" stroke-width="5.2" stroke-linecap="butt"/>
<text x="1628.5" y="1560.7" font-size="39.2" text-anchor="end">0.5</text>
<line x1="1635.3" y1="1659.1" x2="1659.9" y2="1659.1" stroke="#000" stroke-width="5.2" stroke-linecap="butt"/>
<text x="1628.5" y="1673.1" font-size="39.2" text-anchor="end">0.0</text>
<line x1="1710.6" y1="1659.1" x2="1710.6" y2="1684.6" stroke="#000" stroke-width="5.2" stroke-linecap="butt"/>
<text x="1726.7" y="1713.1" font-size="40" text-anchor="end" transform="rotate(-45 1726.7 1713.1)">Medium</text>
<line x1="1788.4" y1="1659.1" x2="1788.4" y2="1684.6" stroke="#000" stroke-width="5.2" stroke-linecap="butt"/>
<text x="1804.5" y="1713.1" font-size="40" text-anchor="end" transform="rotate(-45 1804.5 1713.1)">BMMC</text>
<line x1="1866.2" y1="1659.1" x2="1866.2" y2="1684.6" stroke="#000" stroke-width="5.2" stroke-linecap="butt"/>
<text x="1882.3" y="1713.1" font-size="40" text-anchor="end" transform="rotate(-45 1882.3 1713.1)">S.Tm</text>
<line x1="1944.0" y1="1659.1" x2="1944.0" y2="1684.6" stroke="#000" stroke-width="5.2" stroke-linecap="butt"/>
<text x="1960.1" y="1713.1" font-size="40" text-anchor="end" transform="rotate(-45 1960.1 1713.1)">BMMC+S.Tm</text>
<text x="1711.0" y="1622.5" font-size="50" text-anchor="middle" stroke="#000" stroke-width="0.6">***</text>
<text x="1789.2" y="1589.4" font-size="50" text-anchor="middle" stroke="#000" stroke-width="0.6">***</text>
<text x="1865.0" y="1443.9" font-size="50" text-anchor="middle" stroke="#000" stroke-width="0.6">***</text>
<text x="1725.9" y="1237.9" font-size="39.4">CD45+</text>
<text x="1725.9" y="1285.9" font-size="39.4">F4/80+</text>
<text x="1544.0" y="1437.2" font-size="41" text-anchor="middle" transform="rotate(-90 1544.0 1437.2)">Cell number (10<tspan font-size="27" dy="-14.5">5</tspan><tspan dy="14.5">)</tspan></text>
</g>
</svg>
</body>
</html>
